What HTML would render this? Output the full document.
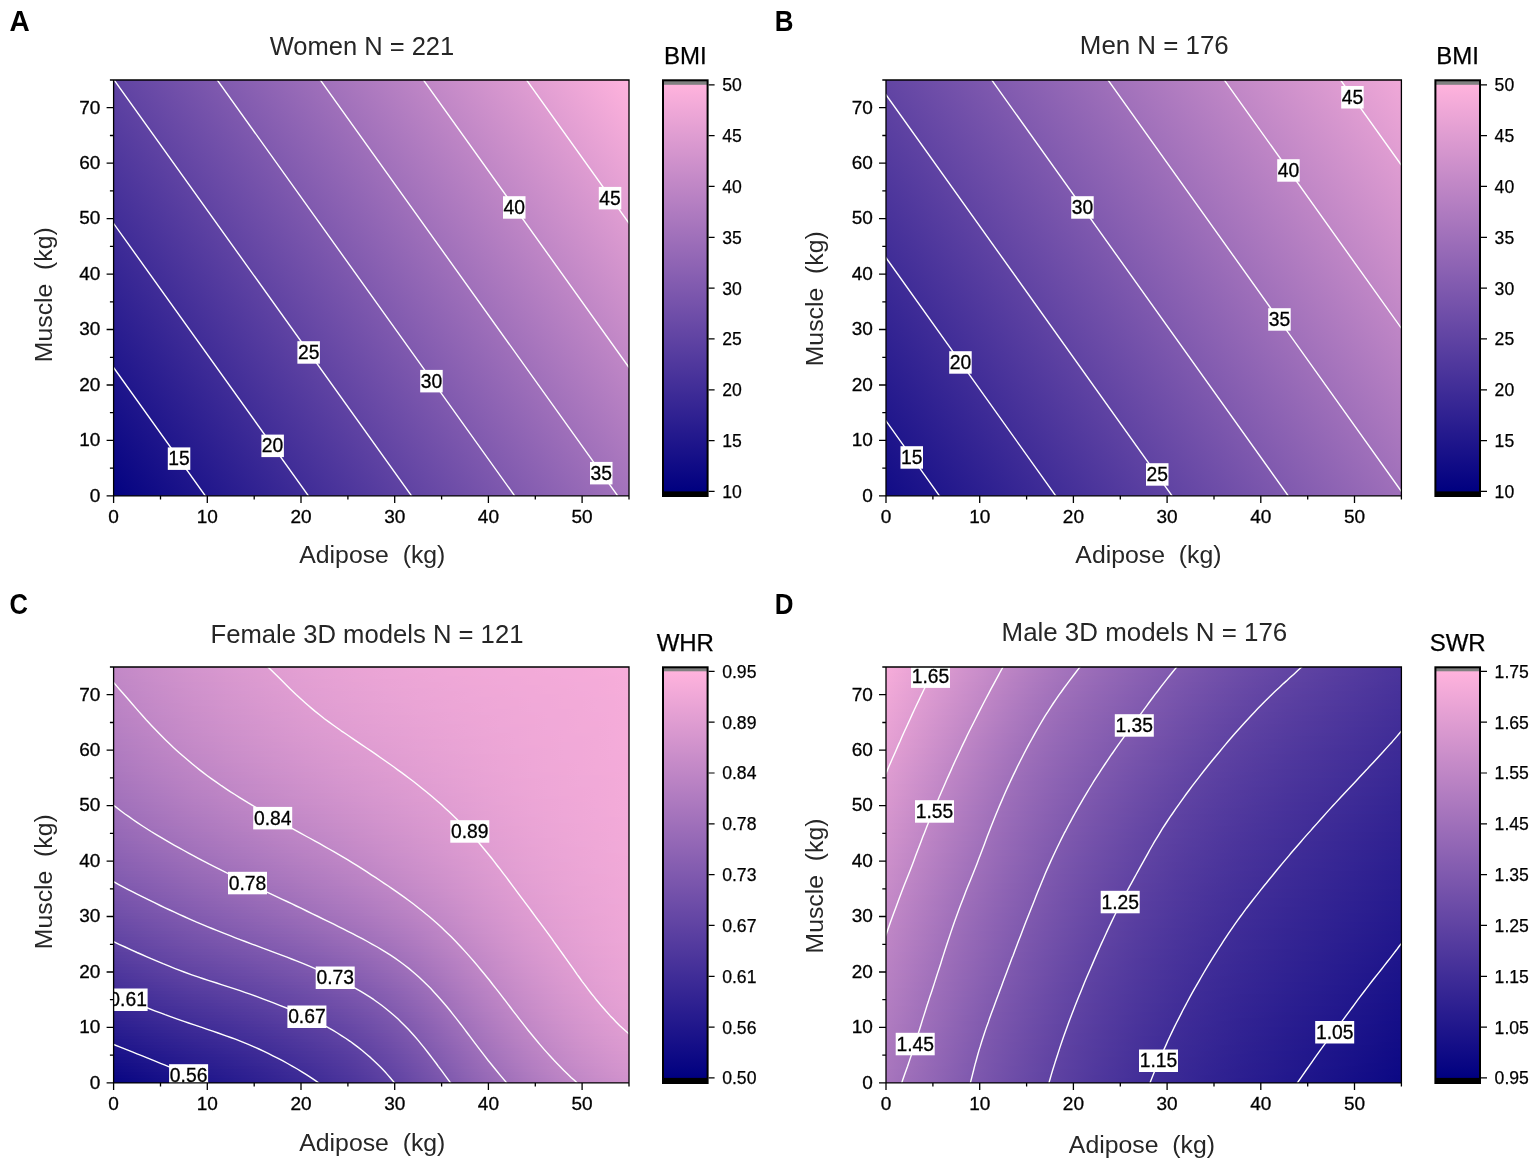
<!DOCTYPE html>
<html lang="en"><head><meta charset="utf-8"><title>Contour plots</title>
<style>
html,body{margin:0;padding:0;background:#fff}
body{width:1535px;height:1163px;position:relative;overflow:hidden;font-family:"Liberation Sans", Arial, Helvetica, sans-serif}
.fill{position:absolute;overflow:hidden}
.fill i{display:block;height:3px}
svg{position:absolute;left:0;top:0}
text{font-family:"Liberation Sans", Arial, Helvetica, sans-serif;fill:#000}
.cl{font-size:19.3px;text-anchor:middle;stroke:#000;stroke-width:.3px}
.xt{font-size:19px;text-anchor:middle;stroke:#000;stroke-width:.3px}
.yt{font-size:19px;text-anchor:end;stroke:#000;stroke-width:.3px}
.ct{font-size:17.6px;stroke:#000;stroke-width:.25px}
.ti{text-anchor:middle;fill:#262626}
.al{font-size:24.8px;text-anchor:middle;fill:#262626}
.cbl{font-size:24px;text-anchor:middle;stroke:#000;stroke-width:.25px}
.pl{font-size:29.2px;font-weight:bold}
</style></head>
<body>
<div class="fill" style="left:113.6px;top:667px;width:515.4px;height:415.9px"><i style="background:linear-gradient(90deg,#c288c7,#c68bc8,#c98dc9,#cd90cb,#d092cc,#d394cd,#d696ce,#d998cf,#db9ad0,#de9cd1,#e09dd2,#e29fd2,#e4a0d3,#e6a1d4,#e7a2d4,#e9a4d5,#eaa4d5,#eca5d6,#eda6d6,#eea7d7,#efa7d7,#efa8d7,#f0a8d8,#f1a9d8,#f1a9d8,#f2aad8,#f3aad8,#f3abd9,#f4abd9,#f4acd9,#f5acd9,#f6adda,#f7aeda)"></i><i style="background:linear-gradient(90deg,#c288c7,#c58ac8,#c98dc9,#cc8fca,#cf92cc,#d394cd,#d596ce,#d898cf,#db9ad0,#dd9bd1,#df9dd1,#e29ed2,#e4a0d3,#e5a1d4,#e7a2d4,#e9a3d5,#eaa4d5,#eba5d6,#eca6d6,#eda7d7,#eea7d7,#efa8d7,#f0a8d7,#f0a9d8,#f1a9d8,#f2aad8,#f2aad8,#f3abd9,#f3abd9,#f4abd9,#f5acd9,#f6adda,#f7adda)"></i><i style="background:linear-gradient(90deg,#c187c6,#c58ac8,#c88dc9,#cc8fca,#cf91cb,#d293cd,#d595ce,#d897cf,#da99d0,#dd9bd0,#df9dd1,#e19ed2,#e3a0d3,#e5a1d4,#e7a2d4,#e8a3d5,#eaa4d5,#eba5d6,#eca6d6,#eda6d6,#eea7d7,#efa8d7,#f0a8d7,#f0a9d8,#f1a9d8,#f2aad8,#f2aad8,#f3aad9,#f3abd9,#f4abd9,#f5acd9,#f6acda,#f7adda)"></i><i style="background:linear-gradient(90deg,#c087c6,#c48ac7,#c88cc9,#cb8fca,#ce91cb,#d293cc,#d495cd,#d797ce,#da99cf,#dc9bd0,#df9cd1,#e19ed2,#e39fd3,#e5a1d3,#e6a2d4,#e8a3d5,#e9a4d5,#eba5d6,#eca5d6,#eda6d6,#eea7d7,#eea7d7,#efa8d7,#f0a8d8,#f1a9d8,#f1a9d8,#f2aad8,#f2aad8,#f3abd9,#f4abd9,#f4acd9,#f5acd9,#f7adda)"></i><i style="background:linear-gradient(90deg,#c087c6,#c389c7,#c78cc9,#cb8eca,#ce91cb,#d193cc,#d495cd,#d797ce,#d999cf,#dc9ad0,#de9cd1,#e09dd2,#e29fd3,#e4a0d3,#e6a1d4,#e8a3d4,#e9a3d5,#eaa4d5,#eba5d6,#eca6d6,#eda7d7,#eea7d7,#efa8d7,#f0a8d7,#f0a9d8,#f1a9d8,#f2aad8,#f2aad8,#f3aad9,#f4abd9,#f4abd9,#f5acd9,#f7adda)"></i><i style="background:linear-gradient(90deg,#bf86c6,#c389c7,#c68bc8,#ca8eca,#cd90cb,#d092cc,#d394cd,#d696ce,#d998cf,#db9ad0,#de9cd1,#e09dd2,#e29fd2,#e4a0d3,#e6a1d4,#e7a2d4,#e9a3d5,#eaa4d5,#eba5d6,#eca6d6,#eda6d6,#eea7d7,#efa8d7,#f0a8d7,#f0a9d8,#f1a9d8,#f2aad8,#f2aad8,#f3aad9,#f3abd9,#f4abd9,#f5acd9,#f6adda)"></i><i style="background:linear-gradient(90deg,#be86c5,#c288c7,#c68bc8,#c98dc9,#cd90cb,#d092cc,#d394cd,#d696ce,#d898cf,#db9ad0,#dd9bd1,#e09dd2,#e29ed2,#e4a0d3,#e5a1d4,#e7a2d4,#e8a3d5,#eaa4d5,#eba5d6,#eca6d6,#eda6d6,#eea7d7,#efa7d7,#efa8d7,#f0a8d8,#f1a9d8,#f1a9d8,#f2aad8,#f3aad8,#f3abd9,#f4abd9,#f5acd9,#f6adda)"></i><i style="background:linear-gradient(90deg,#be85c5,#c288c7,#c58bc8,#c98dc9,#cc8fca,#cf92cc,#d294cd,#d596ce,#d898cf,#da99d0,#dd9bd1,#df9dd1,#e19ed2,#e39fd3,#e5a1d3,#e6a2d4,#e8a3d5,#e9a4d5,#eaa5d5,#eba5d6,#eca6d6,#eda7d7,#eea7d7,#efa8d7,#f0a8d7,#f1a9d8,#f1a9d8,#f2aad8,#f2aad8,#f3abd9,#f4abd9,#f5acd9,#f6adda)"></i><i style="background:linear-gradient(90deg,#bd85c5,#c187c6,#c58ac8,#c88dc9,#cc8fca,#cf91cb,#d293cd,#d595ce,#d797cf,#da99cf,#dc9bd0,#df9cd1,#e19ed2,#e39fd3,#e4a0d3,#e6a1d4,#e7a2d4,#e9a3d5,#eaa4d5,#eba5d6,#eca6d6,#eda6d6,#eea7d7,#efa8d7,#f0a8d7,#f0a9d8,#f1a9d8,#f2aad8,#f2aad8,#f3aad9,#f4abd9,#f5acd9,#f6adda)"></i><i style="background:linear-gradient(90deg,#bd84c5,#c087c6,#c48ac8,#c88cc9,#cb8fca,#ce91cb,#d193cc,#d495cd,#d797ce,#d999cf,#dc9ad0,#de9cd1,#e09ed2,#e29fd3,#e4a0d3,#e6a1d4,#e7a2d4,#e8a3d5,#eaa4d5,#eba5d6,#eca6d6,#eda6d6,#eea7d7,#efa8d7,#efa8d7,#f0a9d8,#f1a9d8,#f1a9d8,#f2aad8,#f3aad9,#f4abd9,#f4acd9,#f6adda)"></i><i style="background:linear-gradient(90deg,#bc84c5,#c087c6,#c489c7,#c78cc9,#cb8eca,#ce90cb,#d193cc,#d495cd,#d697ce,#d998cf,#db9ad0,#de9cd1,#e09dd2,#e29fd2,#e4a0d3,#e5a1d4,#e7a2d4,#e8a3d5,#e9a4d5,#eba5d6,#eca5d6,#eda6d6,#eea7d7,#eea7d7,#efa8d7,#f0a8d8,#f1a9d8,#f1a9d8,#f2aad8,#f3aad8,#f3abd9,#f4acd9,#f6acda)"></i><i style="background:linear-gradient(90deg,#bb83c4,#bf86c6,#c389c7,#c78bc8,#ca8eca,#cd90cb,#d092cc,#d394cd,#d696ce,#d998cf,#db9ad0,#dd9bd1,#e09dd2,#e29ed2,#e3a0d3,#e5a1d3,#e6a2d4,#e8a3d5,#e9a4d5,#eaa4d5,#eba5d6,#eca6d6,#eda7d7,#eea7d7,#efa8d7,#f0a8d7,#f1a9d8,#f1a9d8,#f2aad8,#f2aad8,#f3abd9,#f4abd9,#f6acda)"></i><i style="background:linear-gradient(90deg,#bb83c4,#bf86c5,#c288c7,#c68bc8,#c98dc9,#cd90cb,#d092cc,#d394cd,#d596ce,#d898cf,#db99d0,#dd9bd1,#df9dd1,#e19ed2,#e39fd3,#e4a0d3,#e6a1d4,#e7a2d4,#e9a3d5,#eaa4d5,#eba5d6,#eca6d6,#eda6d6,#eea7d7,#efa8d7,#f0a8d7,#f0a9d8,#f1a9d8,#f2aad8,#f2aad8,#f3abd9,#f4abd9,#f6acda)"></i><i style="background:linear-gradient(90deg,#ba83c4,#be85c5,#c288c7,#c58bc8,#c98dc9,#cc8fca,#cf91cc,#d294cd,#d595ce,#d897cf,#da99d0,#dc9bd0,#df9cd1,#e19ed2,#e29fd3,#e4a0d3,#e6a1d4,#e7a2d4,#e8a3d5,#eaa4d5,#eba5d6,#eca6d6,#eda6d6,#eea7d7,#efa8d7,#efa8d7,#f0a9d8,#f1a9d8,#f2aad8,#f2aad8,#f3abd9,#f4abd9,#f5acda)"></i><i style="background:linear-gradient(90deg,#b982c4,#bd85c5,#c188c6,#c58ac8,#c88dc9,#cc8fca,#cf91cb,#d293cc,#d495cd,#d797ce,#da99cf,#dc9ad0,#de9cd1,#e09dd2,#e29fd2,#e4a0d3,#e5a1d4,#e7a2d4,#e8a3d5,#e9a4d5,#eaa5d6,#eca5d6,#eda6d6,#eea7d7,#eea7d7,#efa8d7,#f0a9d8,#f1a9d8,#f1a9d8,#f2aad8,#f3abd9,#f4abd9,#f5acd9)"></i><i style="background:linear-gradient(90deg,#b982c3,#bd84c5,#c087c6,#c48ac8,#c88cc9,#cb8eca,#ce91cb,#d193cc,#d495cd,#d797ce,#d998cf,#db9ad0,#de9cd1,#e09dd2,#e29ed2,#e3a0d3,#e5a1d3,#e6a2d4,#e8a3d4,#e9a4d5,#eaa4d5,#eba5d6,#eca6d6,#eda7d7,#eea7d7,#efa8d7,#f0a8d8,#f1a9d8,#f1a9d8,#f2aad8,#f3aad9,#f4abd9,#f5acd9)"></i><i style="background:linear-gradient(90deg,#b881c3,#bc84c5,#c087c6,#c489c7,#c78cc9,#ca8eca,#ce90cb,#d192cc,#d394cd,#d696ce,#d998cf,#db9ad0,#dd9bd1,#df9dd1,#e19ed2,#e39fd3,#e4a0d3,#e6a1d4,#e7a2d4,#e9a3d5,#eaa4d5,#eba5d6,#eca6d6,#eda6d6,#eea7d7,#efa8d7,#f0a8d7,#f1a9d8,#f1a9d8,#f2aad8,#f3aad9,#f4abd9,#f5acd9)"></i><i style="background:linear-gradient(90deg,#b781c3,#bb83c4,#bf86c6,#c389c7,#c68bc8,#ca8eca,#cd90cb,#d092cc,#d394cd,#d596ce,#d898cf,#da99d0,#dd9bd0,#df9cd1,#e19ed2,#e29fd3,#e4a0d3,#e6a1d4,#e7a2d4,#e8a3d5,#eaa4d5,#eba5d6,#eca6d6,#eda6d6,#eea7d7,#efa8d7,#f0a8d7,#f0a9d8,#f1a9d8,#f2aad8,#f3aad9,#f4abd9,#f5acd9)"></i><i style="background:linear-gradient(90deg,#b780c3,#bb83c4,#bf86c6,#c288c7,#c68bc8,#c98dc9,#cc8fcb,#cf92cc,#d294cd,#d595ce,#d797cf,#da99cf,#dc9bd0,#de9cd1,#e09dd2,#e29fd2,#e4a0d3,#e5a1d4,#e7a2d4,#e8a3d5,#e9a4d5,#eaa5d6,#eca5d6,#eda6d6,#eea7d7,#efa8d7,#f0a8d7,#f0a9d8,#f1a9d8,#f2aad8,#f3aad8,#f4abd9,#f5acd9)"></i><i style="background:linear-gradient(90deg,#b680c2,#ba83c4,#be85c5,#c288c7,#c58ac8,#c98dc9,#cc8fca,#cf91cb,#d293cc,#d495cd,#d797ce,#d999cf,#dc9ad0,#de9cd1,#e09dd2,#e29ed2,#e39fd3,#e5a1d3,#e6a2d4,#e8a3d4,#e9a4d5,#eaa4d5,#eba5d6,#eda6d6,#eea7d7,#efa7d7,#efa8d7,#f0a9d8,#f1a9d8,#f2aad8,#f3aad8,#f4abd9,#f5acd9)"></i><i style="background:linear-gradient(90deg,#b57fc2,#b982c4,#bd85c5,#c187c6,#c58ac8,#c88cc9,#cb8fca,#ce91cb,#d193cc,#d495cd,#d696ce,#d998cf,#db9ad0,#dd9bd1,#df9dd1,#e19ed2,#e39fd3,#e4a0d3,#e6a1d4,#e7a2d4,#e9a3d5,#eaa4d5,#eba5d6,#eca6d6,#eda7d7,#eea7d7,#efa8d7,#f0a9d8,#f1a9d8,#f2aad8,#f2aad8,#f4abd9,#f5acd9)"></i><i style="background:linear-gradient(90deg,#b57fc2,#b982c3,#bd84c5,#c087c6,#c48ac7,#c78cc9,#cb8eca,#ce90cb,#d092cc,#d394cd,#d696ce,#d898cf,#db99d0,#dd9bd1,#df9cd1,#e19ed2,#e29fd3,#e4a0d3,#e5a1d4,#e7a2d4,#e8a3d5,#eaa4d5,#eba5d6,#eca6d6,#eda7d7,#eea7d7,#efa8d7,#f0a8d8,#f1a9d8,#f2aad8,#f2aad8,#f3abd9,#f5acd9)"></i><i style="background:linear-gradient(90deg,#b47ec2,#b881c3,#bc84c5,#c087c6,#c389c7,#c78bc8,#ca8eca,#cd90cb,#d092cc,#d394cd,#d596ce,#d897cf,#da99d0,#dc9bd0,#de9cd1,#e09dd2,#e29fd2,#e3a0d3,#e5a1d4,#e7a2d4,#e8a3d5,#e9a4d5,#eba5d6,#eca6d6,#eda6d6,#eea7d7,#efa8d7,#f0a8d8,#f1a9d8,#f1aad8,#f2aad8,#f3abd9,#f5acd9)"></i><i style="background:linear-gradient(90deg,#b37ec1,#b781c3,#bb83c4,#bf86c6,#c389c7,#c68bc8,#c98dc9,#cc8fcb,#cf91cc,#d293cd,#d595ce,#d797ce,#d999cf,#dc9ad0,#de9cd1,#e09dd2,#e19ed2,#e39fd3,#e5a0d3,#e6a2d4,#e8a3d4,#e9a4d5,#eaa5d5,#eca5d6,#eda6d6,#eea7d7,#efa8d7,#f0a8d7,#f1a9d8,#f1a9d8,#f2aad8,#f3abd9,#f5acd9)"></i><i style="background:linear-gradient(90deg,#b27dc1,#b680c3,#ba83c4,#be86c5,#c288c7,#c58bc8,#c98dc9,#cc8fca,#cf91cb,#d193cc,#d495cd,#d797ce,#d998cf,#db9ad0,#dd9bd1,#df9dd1,#e19ed2,#e39fd3,#e4a0d3,#e6a1d4,#e7a2d4,#e9a3d5,#eaa4d5,#eba5d6,#eda6d6,#eea7d7,#efa8d7,#f0a8d7,#f1a9d8,#f1a9d8,#f2aad8,#f3abd9,#f5acd9)"></i><i style="background:linear-gradient(90deg,#b27dc1,#b680c2,#ba82c4,#be85c5,#c188c6,#c58ac8,#c88cc9,#cb8fca,#ce91cb,#d193cc,#d394cd,#d696ce,#d898cf,#db99d0,#dd9bd0,#df9cd1,#e09ed2,#e29fd2,#e4a0d3,#e5a1d4,#e7a2d4,#e8a3d5,#eaa4d5,#eba5d6,#eda6d6,#eea7d7,#efa8d7,#f0a8d7,#f0a9d8,#f1a9d8,#f2aad8,#f3abd9,#f5acd9)"></i><i style="background:linear-gradient(90deg,#b17cc0,#b57fc2,#b982c3,#bd85c5,#c087c6,#c48ac7,#c78cc9,#ca8eca,#cd90cb,#d092cc,#d394cd,#d596ce,#d897cf,#da99d0,#dc9ad0,#de9cd1,#e09dd2,#e29ed2,#e3a0d3,#e5a1d4,#e7a2d4,#e8a3d5,#eaa4d5,#eba5d6,#eca6d6,#eea7d7,#efa7d7,#f0a8d7,#f0a9d8,#f1a9d8,#f2aad8,#f3abd9,#f4acd9)"></i><i style="background:linear-gradient(90deg,#b07cc0,#b47fc2,#b881c3,#bc84c5,#c087c6,#c389c7,#c78bc8,#ca8eca,#cd90cb,#cf92cc,#d293cd,#d595ce,#d797ce,#d999cf,#dc9ad0,#de9bd1,#df9dd1,#e19ed2,#e39fd3,#e5a1d3,#e6a2d4,#e8a3d5,#e9a4d5,#eba5d6,#eca6d6,#eda7d7,#eea7d7,#efa8d7,#f0a9d8,#f1a9d8,#f2aad8,#f3abd9,#f4acd9)"></i><i style="background:linear-gradient(90deg,#af7bc0,#b37ec1,#b881c3,#bb84c4,#bf86c6,#c389c7,#c68bc8,#c98dc9,#cc8fca,#cf91cb,#d193cc,#d495cd,#d697ce,#d998cf,#db9ad0,#dd9bd1,#df9cd1,#e19ed2,#e39fd3,#e4a0d3,#e6a1d4,#e7a3d4,#e9a4d5,#eba5d6,#eca6d6,#eda7d7,#eea7d7,#efa8d7,#f0a9d8,#f1a9d8,#f2aad8,#f3abd9,#f4acd9)"></i><i style="background:linear-gradient(90deg,#ae7ac0,#b37dc1,#b780c3,#bb83c4,#be86c5,#c288c7,#c58ac8,#c88dc9,#cb8fca,#ce91cb,#d193cc,#d394cd,#d696ce,#d898cf,#da99d0,#dc9bd0,#de9cd1,#e09dd2,#e29fd2,#e4a0d3,#e6a1d4,#e7a2d4,#e9a3d5,#eaa4d5,#eca5d6,#eda6d6,#eea7d7,#efa8d7,#f0a9d8,#f1a9d8,#f2aad8,#f3abd9,#f4abd9)"></i><i style="background:linear-gradient(90deg,#ae7abf,#b27dc1,#b680c2,#ba82c4,#be85c5,#c188c6,#c48ac8,#c88cc9,#cb8eca,#cd90cb,#d092cc,#d394cd,#d596ce,#d897cf,#da99cf,#dc9ad0,#de9cd1,#e09dd2,#e29ed2,#e3a0d3,#e5a1d4,#e7a2d4,#e8a3d5,#eaa4d5,#eca5d6,#eda6d6,#eea7d7,#efa8d7,#f0a9d8,#f1a9d8,#f2aad8,#f3abd9,#f4abd9)"></i><i style="background:linear-gradient(90deg,#ad79bf,#b17cc1,#b57fc2,#b982c3,#bd84c5,#c087c6,#c489c7,#c78cc8,#ca8eca,#cd90cb,#cf92cc,#d293cd,#d595ce,#d797ce,#d998cf,#db9ad0,#dd9bd1,#df9dd1,#e19ed2,#e39fd3,#e5a1d3,#e6a2d4,#e8a3d5,#eaa4d5,#eba5d6,#eda6d6,#eea7d7,#efa8d7,#f0a8d8,#f1a9d8,#f2aad8,#f3aad9,#f4abd9)"></i><i style="background:linear-gradient(90deg,#ac79bf,#b07cc0,#b47fc2,#b881c3,#bc84c5,#bf86c6,#c389c7,#c68bc8,#c98dc9,#cc8fca,#cf91cb,#d193cc,#d495cd,#d696ce,#d998cf,#db9ad0,#dd9bd1,#df9cd1,#e19ed2,#e39fd3,#e4a0d3,#e6a2d4,#e8a3d5,#eaa4d5,#eba5d6,#eda6d6,#eea7d7,#efa8d7,#f0a8d7,#f1a9d8,#f2aad8,#f3aad9,#f4abd9)"></i><i style="background:linear-gradient(90deg,#ab78be,#af7bc0,#b47ec1,#b781c3,#bb83c4,#bf86c6,#c288c7,#c58ac8,#c88dc9,#cb8fca,#ce91cb,#d192cc,#d394cd,#d696ce,#d898cf,#da99d0,#dc9bd0,#de9cd1,#e09dd2,#e29fd2,#e4a0d3,#e6a1d4,#e8a3d4,#e9a4d5,#eba5d6,#eca6d6,#eea7d7,#efa8d7,#f0a8d7,#f1a9d8,#f2aad8,#f3aad9,#f4abd9)"></i><i style="background:linear-gradient(90deg,#aa78be,#af7bc0,#b37dc1,#b780c3,#ba83c4,#be85c5,#c188c6,#c48ac8,#c88cc9,#ca8eca,#cd90cb,#d092cc,#d294cd,#d595ce,#d797ce,#d999cf,#dc9ad0,#de9cd1,#e09dd2,#e29ed2,#e4a0d3,#e5a1d4,#e7a2d4,#e9a4d5,#eba5d6,#eca6d6,#eea7d7,#efa8d7,#f0a8d7,#f1a9d8,#f2aad8,#f3aad9,#f4abd9)"></i><i style="background:linear-gradient(90deg,#a977be,#ae7abf,#b27dc1,#b680c2,#b982c4,#bd85c5,#c087c6,#c489c7,#c78bc8,#ca8eca,#cc90cb,#cf91cc,#d293cc,#d495cd,#d797ce,#d998cf,#db9ad0,#dd9bd1,#df9dd1,#e19ed2,#e39fd3,#e5a1d4,#e7a2d4,#e9a3d5,#eaa5d5,#eca6d6,#eda7d7,#efa7d7,#f0a8d7,#f1a9d8,#f2aad8,#f3aad8,#f4abd9)"></i><i style="background:linear-gradient(90deg,#a976bd,#ad79bf,#b17cc1,#b57fc2,#b982c3,#bc84c5,#c087c6,#c389c7,#c68bc8,#c98dc9,#cc8fca,#ce91cb,#d193cc,#d494cd,#d696ce,#d898cf,#da99d0,#dd9bd0,#df9cd1,#e19ed2,#e39fd3,#e5a1d3,#e7a2d4,#e8a3d5,#eaa4d5,#eca6d6,#eda7d7,#eea7d7,#efa8d7,#f0a9d8,#f1a9d8,#f3aad8,#f4abd9)"></i><i style="background:linear-gradient(90deg,#a876bd,#ac79bf,#b07cc0,#b47ec2,#b881c3,#bb84c4,#bf86c6,#c288c7,#c58ac8,#c88cc9,#cb8eca,#ce90cb,#d092cc,#d394cd,#d596ce,#d897cf,#da99cf,#dc9ad0,#de9cd1,#e09dd2,#e29fd3,#e4a0d3,#e6a2d4,#e8a3d5,#eaa4d5,#eca5d6,#eda6d6,#eea7d7,#efa8d7,#f0a9d8,#f1a9d8,#f2aad8,#f4abd9)"></i><i style="background:linear-gradient(90deg,#a775bd,#ab78be,#af7bc0,#b37ec1,#b780c3,#ba83c4,#be85c5,#c188c6,#c48ac8,#c78cc9,#ca8eca,#cd90cb,#d092cc,#d293cd,#d595ce,#d797ce,#d998cf,#db9ad0,#de9cd1,#e09dd2,#e29fd2,#e4a0d3,#e6a1d4,#e8a3d5,#eaa4d5,#eba5d6,#eda6d6,#eea7d7,#efa8d7,#f0a9d8,#f1a9d8,#f2aad8,#f4abd9)"></i><i style="background:linear-gradient(90deg,#a674bc,#aa77be,#ae7ac0,#b27dc1,#b680c2,#ba82c4,#bd85c5,#c087c6,#c389c7,#c68bc8,#c98dc9,#cc8fca,#cf91cb,#d193cc,#d495cd,#d696ce,#d998cf,#db9ad0,#dd9bd1,#df9dd1,#e19ed2,#e3a0d3,#e6a1d4,#e8a3d4,#e9a4d5,#eba5d6,#eda6d6,#eea7d7,#efa8d7,#f0a9d8,#f1a9d8,#f2aad8,#f4abd9)"></i><i style="background:linear-gradient(90deg,#a574bc,#a977be,#ad7abf,#b17cc1,#b57fc2,#b982c3,#bc84c5,#bf86c6,#c389c7,#c68bc8,#c88dc9,#cb8fca,#ce91cb,#d192cc,#d394cd,#d696ce,#d898cf,#da99d0,#dd9bd0,#df9cd1,#e19ed2,#e39fd3,#e5a1d4,#e7a2d4,#e9a4d5,#eba5d6,#eda6d6,#eea7d7,#efa8d7,#f0a8d8,#f1a9d8,#f2aad8,#f4abd9)"></i><i style="background:linear-gradient(90deg,#a473bc,#a876bd,#ac79bf,#b07cc0,#b47ec2,#b881c3,#bb83c4,#be86c5,#c288c7,#c58ac8,#c88cc9,#ca8eca,#cd90cb,#d092cc,#d294cd,#d595ce,#d797cf,#da99cf,#dc9ad0,#de9cd1,#e09ed2,#e39fd3,#e5a1d3,#e7a2d4,#e9a3d5,#eba5d6,#eca6d6,#eea7d7,#efa8d7,#f0a8d7,#f1a9d8,#f2aad8,#f4abd9)"></i><i style="background:linear-gradient(90deg,#a372bb,#a775bd,#ab78bf,#af7bc0,#b37ec1,#b780c3,#ba83c4,#be85c5,#c187c6,#c489c7,#c78bc8,#ca8eca,#cc8fcb,#cf91cb,#d293cc,#d495cd,#d797ce,#d998cf,#db9ad0,#de9cd1,#e09dd2,#e29fd3,#e4a0d3,#e7a2d4,#e9a3d5,#eaa5d6,#eca6d6,#eea7d7,#efa8d7,#f0a8d7,#f1a9d8,#f2aad8,#f4abd9)"></i><i style="background:linear-gradient(90deg,#a272bb,#a675bd,#aa78be,#ae7ac0,#b27dc1,#b680c2,#b982c4,#bd84c5,#c087c6,#c389c7,#c68bc8,#c98dc9,#cc8fca,#ce91cb,#d193cc,#d394cd,#d696ce,#d898cf,#db9ad0,#dd9bd1,#df9dd2,#e29ed2,#e4a0d3,#e6a2d4,#e8a3d5,#eaa4d5,#eca6d6,#eda7d7,#efa7d7,#f0a8d7,#f1a9d8,#f2aad8,#f3abd9)"></i><i style="background:linear-gradient(90deg,#a171bb,#a574bc,#a977be,#ad7abf,#b17cc1,#b57fc2,#b881c3,#bc84c4,#bf86c6,#c288c7,#c58ac8,#c88cc9,#cb8eca,#cd90cb,#d092cc,#d394cd,#d596ce,#d897cf,#da99d0,#dd9bd0,#df9dd1,#e19ed2,#e4a0d3,#e6a1d4,#e8a3d5,#eaa4d5,#eca5d6,#eda6d6,#eea7d7,#f0a8d7,#f1a9d8,#f2aad8,#f3abd9)"></i><i style="background:linear-gradient(90deg,#a070ba,#a473bc,#a876bd,#ac79bf,#b07cc0,#b47ec2,#b781c3,#bb83c4,#be85c5,#c187c6,#c48ac7,#c78cc9,#ca8eca,#cd90cb,#cf91cc,#d293cd,#d595ce,#d797ce,#da99cf,#dc9ad0,#de9cd1,#e19ed2,#e39fd3,#e5a1d4,#e8a3d4,#eaa4d5,#eba5d6,#eda6d6,#eea7d7,#efa8d7,#f1a9d8,#f2aad8,#f3abd9)"></i><i style="background:linear-gradient(90deg,#9f70ba,#a373bc,#a775bd,#ab78be,#af7bc0,#b37dc1,#b680c2,#ba82c4,#bd85c5,#c087c6,#c389c7,#c68bc8,#c98dc9,#cc8fca,#ce91cb,#d193cc,#d495cd,#d696ce,#d998cf,#db9ad0,#de9cd1,#e09ed2,#e39fd3,#e5a1d4,#e7a2d4,#e9a4d5,#eba5d6,#eda6d6,#eea7d7,#efa8d7,#f1a9d8,#f2aad8,#f3abd9)"></i><i style="background:linear-gradient(90deg,#9e6fba,#a272bb,#a675bd,#aa78be,#ae7abf,#b27dc1,#b57fc2,#b982c3,#bc84c5,#bf86c6,#c288c7,#c58ac8,#c88cc9,#cb8eca,#ce90cb,#d092cc,#d394cd,#d696ce,#d898cf,#db9ad0,#dd9bd1,#e09dd2,#e29fd3,#e5a1d3,#e7a2d4,#e9a4d5,#eba5d6,#eda6d6,#eea7d7,#efa8d7,#f0a9d8,#f2aad8,#f3abd9)"></i><i style="background:linear-gradient(90deg,#9d6eb9,#a171bb,#a574bc,#a977be,#ad79bf,#b17cc0,#b47fc2,#b881c3,#bb83c4,#be85c5,#c188c6,#c48ac8,#c78cc9,#ca8eca,#cd90cb,#d092cc,#d294cd,#d596ce,#d897cf,#da99d0,#dd9bd1,#df9dd1,#e29fd2,#e4a0d3,#e7a2d4,#e9a3d5,#eba5d6,#eca6d6,#eea7d7,#efa8d7,#f0a9d8,#f2aad8,#f3abd9)"></i><i style="background:linear-gradient(90deg,#9c6db9,#a070ba,#a473bc,#a876bd,#ac79bf,#b07bc0,#b37ec1,#b780c3,#ba82c4,#bd85c5,#c087c6,#c389c7,#c68bc8,#c98dc9,#cc8fca,#cf91cb,#d293cc,#d495cd,#d797ce,#da99cf,#dc9bd0,#df9cd1,#e19ed2,#e4a0d3,#e6a2d4,#e9a3d5,#eaa5d6,#eca6d6,#eea7d7,#efa8d7,#f0a9d8,#f2aad8,#f3abd9)"></i><i style="background:linear-gradient(90deg,#9b6db8,#9f70ba,#a372bb,#a775bd,#ab78be,#ae7ac0,#b27dc1,#b67fc2,#b982c3,#bc84c5,#bf86c6,#c288c7,#c58ac8,#c88dc9,#cb8fca,#ce91cb,#d193cc,#d495cd,#d696ce,#d998cf,#dc9ad0,#de9cd1,#e19ed2,#e4a0d3,#e6a1d4,#e8a3d5,#eaa4d5,#eca6d6,#eda7d7,#efa8d7,#f0a9d8,#f1a9d8,#f3abd9)"></i><i style="background:linear-gradient(90deg,#996cb8,#9e6fba,#a272bb,#a674bc,#aa77be,#ad7abf,#b17cc1,#b47fc2,#b881c3,#bb83c4,#be86c5,#c188c7,#c48ac8,#c78cc9,#ca8eca,#cd90cb,#d092cc,#d394cd,#d696ce,#d898cf,#db9ad0,#de9cd1,#e19ed2,#e39fd3,#e6a1d4,#e8a3d5,#eaa4d5,#eca5d6,#eda7d7,#efa7d7,#f0a8d8,#f1a9d8,#f3aad9)"></i><i style="background:linear-gradient(90deg,#986bb8,#9d6eb9,#a171bb,#a574bc,#a976bd,#ac79bf,#b07bc0,#b37ec1,#b780c3,#ba83c4,#bd85c5,#c087c6,#c389c7,#c68bc8,#c98dc9,#cc8fca,#cf91cc,#d293cd,#d595ce,#d897cf,#db99d0,#dd9bd1,#e09dd2,#e39fd3,#e5a1d4,#e8a3d4,#eaa4d5,#eba5d6,#eda6d6,#eea7d7,#f0a8d7,#f1a9d8,#f3aad9)"></i><i style="background:linear-gradient(90deg,#976ab7,#9c6db9,#a070ba,#a473bc,#a776bd,#ab78be,#af7bc0,#b27dc1,#b67fc2,#b982c3,#bc84c5,#bf86c6,#c288c7,#c58bc8,#c88dc9,#cb8fca,#ce91cb,#d193cc,#d495cd,#d797ce,#da99d0,#dd9bd1,#e09dd2,#e29fd3,#e5a1d3,#e7a2d4,#e9a4d5,#eba5d6,#eda6d6,#eea7d7,#f0a8d7,#f1a9d8,#f3aad8)"></i><i style="background:linear-gradient(90deg,#9669b7,#9a6cb8,#9e6fba,#a272bb,#a675bd,#aa77be,#ae7abf,#b17cc1,#b57fc2,#b881c3,#bb83c4,#be86c5,#c188c7,#c48ac8,#c78cc9,#ca8eca,#cd90cb,#d192cc,#d494cd,#d697ce,#d999cf,#dc9bd0,#df9dd1,#e29fd2,#e5a0d3,#e7a2d4,#e9a4d5,#eba5d6,#eda6d6,#eea7d7,#f0a8d7,#f1a9d8,#f3aad8)"></i><i style="background:linear-gradient(90deg,#9568b6,#996bb8,#9d6eb9,#a171bb,#a574bc,#a976be,#ac79bf,#b07cc0,#b37ec1,#b780c3,#ba83c4,#bd85c5,#c087c6,#c389c7,#c68bc8,#ca8dc9,#cd90cb,#d092cc,#d394cd,#d696ce,#d998cf,#dc9ad0,#df9cd1,#e19ed2,#e4a0d3,#e7a2d4,#e9a3d5,#eba5d6,#eca6d6,#eea7d7,#efa8d7,#f1a9d8,#f2aad8)"></i><i style="background:linear-gradient(90deg,#9468b6,#986bb7,#9c6eb9,#a070ba,#a473bc,#a876bd,#ab78be,#af7bc0,#b27dc1,#b67fc2,#b982c3,#bc84c5,#bf86c6,#c288c7,#c58bc8,#c98dc9,#cc8fca,#cf91cb,#d293cd,#d596ce,#d898cf,#db9ad0,#de9cd1,#e19ed2,#e4a0d3,#e6a2d4,#e9a3d5,#eba5d6,#eca6d6,#eea7d7,#efa8d7,#f1a9d8,#f2aad8)"></i><i style="background:linear-gradient(90deg,#9267b5,#976ab7,#9b6db8,#9f6fba,#a372bb,#a675bd,#aa77be,#ae7abf,#b17cc1,#b47fc2,#b881c3,#bb83c4,#be86c5,#c188c7,#c48ac8,#c88cc9,#cb8eca,#ce91cb,#d193cc,#d495cd,#d897cf,#db99d0,#de9cd1,#e19ed2,#e3a0d3,#e6a1d4,#e8a3d5,#eaa4d5,#eca6d6,#eea7d7,#efa8d7,#f1a9d8,#f2aad8)"></i><i style="background:linear-gradient(90deg,#9166b5,#9569b7,#9a6cb8,#9e6fb9,#a171bb,#a574bc,#a976be,#ac79bf,#b07bc0,#b37ec1,#b780c3,#ba83c4,#bd85c5,#c087c6,#c389c7,#c78bc8,#ca8eca,#cd90cb,#d092cc,#d495cd,#d797ce,#da99d0,#dd9bd1,#e09dd2,#e39fd3,#e6a1d4,#e8a3d5,#eaa4d5,#eca6d6,#eda7d7,#efa8d7,#f0a9d8,#f2aad8)"></i><i style="background:linear-gradient(90deg,#9065b4,#9468b6,#986bb8,#9c6eb9,#a070ba,#a473bc,#a876bd,#ab78be,#af7bc0,#b27dc1,#b67fc2,#b982c3,#bc84c5,#bf86c6,#c289c7,#c68bc8,#c98dc9,#cc8fcb,#d092cc,#d394cd,#d696ce,#d999cf,#dd9bd0,#e09dd2,#e39fd3,#e5a1d4,#e8a3d4,#eaa4d5,#eca5d6,#eda7d7,#efa8d7,#f0a9d8,#f2aad8)"></i><i style="background:linear-gradient(90deg,#8f64b4,#9367b6,#976ab7,#9b6db9,#9f70ba,#a372bb,#a675bd,#aa77be,#ad7abf,#b17cc1,#b47fc2,#b881c3,#bb83c4,#be86c5,#c188c7,#c58ac8,#c88cc9,#cc8fca,#cf91cb,#d294cd,#d696ce,#d998cf,#dc9ad0,#df9dd1,#e29fd2,#e5a1d3,#e7a2d4,#eaa4d5,#eba5d6,#eda6d6,#efa8d7,#f0a9d8,#f2aad8)"></i><i style="background:linear-gradient(90deg,#8d63b4,#9266b5,#9669b7,#9a6cb8,#9e6fb9,#a171bb,#a574bc,#a976be,#ac79bf,#b07bc0,#b37ec1,#b780c3,#ba82c4,#bd85c5,#c087c6,#c489c7,#c78cc9,#cb8eca,#ce91cb,#d193cc,#d595ce,#d898cf,#dc9ad0,#df9cd1,#e29ed2,#e5a0d3,#e7a2d4,#e9a4d5,#eba5d6,#eda6d6,#eea7d7,#f0a9d8,#f2aad8)"></i><i style="background:linear-gradient(90deg,#8c62b3,#9065b5,#9468b6,#986bb8,#9c6eb9,#a070ba,#a473bc,#a776bd,#ab78be,#ae7ac0,#b27dc1,#b57fc2,#b982c3,#bc84c5,#bf86c6,#c389c7,#c68bc8,#ca8eca,#cd90cb,#d192cc,#d495cd,#d897cf,#db9ad0,#de9cd1,#e19ed2,#e4a0d3,#e7a2d4,#e9a4d5,#eba5d6,#eda6d6,#eea7d7,#f0a8d7,#f2aad8)"></i><i style="background:linear-gradient(90deg,#8b61b3,#8f64b4,#9367b6,#976ab7,#9b6db9,#9f6fba,#a272bb,#a675bd,#aa77be,#ad7abf,#b17cc0,#b47ec2,#b881c3,#bb83c4,#be86c5,#c288c7,#c58ac8,#c98dc9,#cc8fcb,#d092cc,#d394cd,#d797ce,#da99d0,#de9cd1,#e19ed2,#e4a0d3,#e6a2d4,#e9a3d5,#eba5d6,#eca6d6,#eea7d7,#f0a8d7,#f1a9d8)"></i><i style="background:linear-gradient(90deg,#8960b2,#8e63b4,#9266b5,#9669b7,#9a6cb8,#9d6fb9,#a171bb,#a574bc,#a876bd,#ac79bf,#af7bc0,#b37ec1,#b680c2,#ba82c4,#bd85c5,#c187c6,#c48ac8,#c88cc9,#cb8fca,#cf91cc,#d394cd,#d696ce,#da99cf,#dd9bd1,#e09ed2,#e3a0d3,#e6a2d4,#e8a3d5,#eaa5d6,#eca6d6,#eea7d7,#f0a8d7,#f1a9d8)"></i><i style="background:linear-gradient(90deg,#885fb2,#8c62b3,#9065b5,#9468b6,#986bb8,#9c6eb9,#a070ba,#a473bc,#a775bd,#ab78be,#ae7ac0,#b27dc1,#b57fc2,#b982c3,#bc84c5,#c086c6,#c389c7,#c78cc9,#cb8eca,#ce91cb,#d293cd,#d696ce,#d998cf,#dd9bd0,#e09dd2,#e39fd3,#e6a1d4,#e8a3d5,#eaa4d5,#eca6d6,#eea7d7,#efa8d7,#f1a9d8)"></i><i style="background:linear-gradient(90deg,#875fb1,#8b62b3,#8f64b4,#9367b6,#976ab7,#9b6db8,#9e6fba,#a272bb,#a674bc,#a977be,#ad79bf,#b07cc0,#b47ec2,#b781c3,#bb83c4,#bf86c5,#c288c7,#c68bc8,#ca8eca,#cd90cb,#d193cc,#d595ce,#d998cf,#dc9bd0,#e09dd2,#e39fd3,#e5a1d4,#e8a3d5,#eaa4d5,#eca6d6,#eea7d7,#efa8d7,#f1a9d8)"></i><i style="background:linear-gradient(90deg,#855eb1,#8a61b2,#8e63b4,#9266b5,#9669b7,#996cb8,#9d6eb9,#a171bb,#a473bc,#a876bd,#ac78bf,#af7bc0,#b37dc1,#b680c2,#ba82c4,#bd85c5,#c188c6,#c58ac8,#c98dc9,#cd90cb,#d092cc,#d495cd,#d898cf,#dc9ad0,#df9dd1,#e29fd3,#e5a1d4,#e8a3d4,#eaa4d5,#eca5d6,#eda7d7,#efa8d7,#f1a9d8)"></i><i style="background:linear-gradient(90deg,#845db0,#8860b2,#8c62b3,#9065b5,#9468b6,#986bb7,#9c6db9,#9f70ba,#a372bb,#a775bd,#aa78be,#ae7abf,#b17dc1,#b57fc2,#b982c3,#bc84c5,#c087c6,#c48ac7,#c88cc9,#cc8fca,#d092cc,#d394cd,#d797cf,#db9ad0,#df9cd1,#e29fd2,#e5a1d3,#e7a2d4,#e9a4d5,#eba5d6,#eda7d7,#efa8d7,#f1a9d8)"></i><i style="background:linear-gradient(90deg,#825cb0,#875fb1,#8b61b3,#8f64b4,#9367b6,#976ab7,#9a6cb8,#9e6fba,#a272bb,#a574bc,#a977be,#ad79bf,#b07cc0,#b47ec2,#b781c3,#bb83c4,#bf86c6,#c389c7,#c78cc8,#cb8eca,#cf91cb,#d394cd,#d797ce,#da99d0,#de9cd1,#e19ed2,#e4a0d3,#e7a2d4,#e9a4d5,#eba5d6,#eda6d6,#efa8d7,#f1a9d8)"></i><i style="background:linear-gradient(90deg,#815baf,#855eb1,#8960b2,#8d63b4,#9166b5,#9569b6,#996bb8,#9d6eb9,#a071ba,#a473bc,#a876bd,#ab78be,#af7bc0,#b37dc1,#b680c2,#ba83c4,#be85c5,#c288c7,#c68bc8,#ca8eca,#ce91cb,#d293cd,#d696ce,#da99cf,#de9cd1,#e19ed2,#e4a0d3,#e7a2d4,#e9a4d5,#eba5d6,#eda6d6,#efa7d7,#f0a9d8)"></i><i style="background:linear-gradient(90deg,#805aaf,#845db0,#885fb2,#8c62b3,#9065b4,#9468b6,#986ab7,#9b6db9,#9f70ba,#a372bb,#a675bd,#aa77be,#ae7abf,#b17cc1,#b57fc2,#b982c3,#bd84c5,#c187c6,#c58ac8,#c98dc9,#cd90cb,#d193cc,#d596ce,#d999cf,#dd9bd1,#e19ed2,#e4a0d3,#e6a2d4,#e9a3d5,#eba5d6,#eda6d6,#eea7d7,#f0a9d8)"></i><i style="background:linear-gradient(90deg,#7e59ae,#825cb0,#865eb1,#8a61b3,#8e64b4,#9267b5,#9669b7,#9a6cb8,#9d6fb9,#a171bb,#a574bc,#a876bd,#ac79bf,#b07cc0,#b47ec2,#b881c3,#bc84c4,#c086c6,#c489c7,#c88cc9,#cc8fca,#d092cc,#d595ce,#d998cf,#dd9bd0,#e09dd2,#e3a0d3,#e6a1d4,#e8a3d5,#eba5d6,#eca6d6,#eea7d7,#f0a9d8)"></i><i style="background:linear-gradient(90deg,#7d58ad,#815aaf,#855db1,#8960b2,#8d63b3,#9166b5,#9568b6,#986bb8,#9c6eb9,#a070ba,#a373bc,#a775bd,#ab78be,#af7bc0,#b27dc1,#b680c3,#ba83c4,#be86c5,#c389c7,#c78cc9,#cb8fca,#d092cc,#d495cd,#d898cf,#dc9ad0,#e09dd2,#e39fd3,#e6a1d4,#e8a3d5,#eaa4d5,#eca6d6,#eea7d7,#f0a8d8)"></i><i style="background:linear-gradient(90deg,#7b56ad,#7f59ae,#845cb0,#885fb1,#8b62b3,#8f65b4,#9367b6,#976ab7,#9b6db8,#9e6fba,#a272bb,#a674bc,#a977be,#ad7abf,#b17cc1,#b57fc2,#b982c4,#bd85c5,#c288c7,#c68bc8,#ca8eca,#cf91cb,#d394cd,#d797cf,#db9ad0,#df9dd1,#e29fd3,#e5a1d4,#e8a3d5,#eaa4d5,#eca6d6,#eea7d7,#f0a8d7)"></i><i style="background:linear-gradient(90deg,#7a55ac,#7e58ae,#825baf,#865eb1,#8a61b2,#8e64b4,#9266b5,#9569b6,#996bb8,#9d6eb9,#a071bb,#a473bc,#a876bd,#ac79bf,#b07bc0,#b47ec2,#b881c3,#bc84c5,#c087c6,#c58ac8,#c98dc9,#ce91cb,#d294cd,#d797ce,#db9ad0,#df9cd1,#e29fd2,#e5a1d4,#e8a3d4,#eaa4d5,#eca6d6,#eea7d7,#f0a8d7)"></i><i style="background:linear-gradient(90deg,#7854ac,#7c57ad,#805aaf,#855db0,#8860b2,#8c63b3,#9065b5,#9468b6,#986ab7,#9b6db9,#9f70ba,#a372bb,#a775bd,#ab78be,#ae7ac0,#b37dc1,#b780c3,#bb83c4,#bf86c6,#c489c7,#c88dc9,#cd90cb,#d293cc,#d696ce,#da99d0,#de9cd1,#e29ed2,#e5a0d3,#e7a2d4,#eaa4d5,#eca5d6,#eea7d7,#f0a8d7)"></i><i style="background:linear-gradient(90deg,#7753ab,#7b56ad,#7f59ae,#835cb0,#875fb1,#8b61b3,#8f64b4,#9267b5,#9669b7,#9a6cb8,#9d6fb9,#a171bb,#a574bc,#a977be,#ad7abf,#b17cc1,#b57fc2,#ba82c4,#be85c5,#c389c7,#c78cc9,#cc8fca,#d193cc,#d596ce,#da99cf,#de9cd1,#e19ed2,#e4a0d3,#e7a2d4,#e9a4d5,#eba5d6,#eda7d7,#efa8d7)"></i><i style="background:linear-gradient(90deg,#7552ab,#7955ac,#7d58ae,#815baf,#855eb1,#8960b2,#8d63b3,#9166b5,#9568b6,#986bb8,#9c6db9,#a070ba,#a473bc,#a876bd,#ac79bf,#b07bc0,#b47ec2,#b881c3,#bd85c5,#c288c7,#c68bc8,#cb8fca,#d092cc,#d595ce,#d998cf,#dd9bd1,#e19ed2,#e4a0d3,#e7a2d4,#e9a4d5,#eba5d6,#eda7d7,#efa8d7)"></i><i style="background:linear-gradient(90deg,#7351aa,#7854ac,#7c57ad,#805aaf,#845db0,#885fb2,#8c62b3,#8f65b4,#9367b6,#976ab7,#9a6cb8,#9e6fba,#a272bb,#a675bd,#aa78be,#ae7ac0,#b37dc1,#b781c3,#bc84c4,#c187c6,#c58bc8,#ca8eca,#cf91cc,#d495cd,#d898cf,#dd9bd0,#e09dd2,#e3a0d3,#e6a2d4,#e9a3d5,#eba5d6,#eda6d6,#efa8d7)"></i><i style="background:linear-gradient(90deg,#7250aa,#7653ab,#7a56ad,#7e59ae,#825bb0,#865eb1,#8a61b2,#8e63b4,#9166b5,#9569b6,#996bb8,#9d6eb9,#a171bb,#a574bc,#a977be,#ad79bf,#b17cc1,#b680c2,#bb83c4,#bf86c6,#c48ac8,#c98dc9,#ce91cb,#d394cd,#d897cf,#dc9ad0,#e09dd2,#e39fd3,#e6a1d4,#e9a3d5,#eba5d6,#eda6d6,#efa8d7)"></i><i style="background:linear-gradient(90deg,#704fa9,#7552ab,#7955ac,#7d58ae,#815aaf,#855db0,#8860b2,#8c62b3,#9065b4,#9368b6,#976ab7,#9b6db9,#9f70ba,#a373bc,#a775bd,#ac78bf,#b07cc0,#b47fc2,#b982c4,#be86c5,#c389c7,#c88dc9,#cd90cb,#d294cd,#d797ce,#db9ad0,#df9dd1,#e39fd3,#e6a1d4,#e8a3d5,#eba5d6,#eda6d6,#efa8d7)"></i><i style="background:linear-gradient(90deg,#6f4ea8,#7351aa,#7754ab,#7b56ad,#7f59ae,#835cb0,#875fb1,#8a61b3,#8e64b4,#9266b5,#9669b7,#9a6cb8,#9e6fb9,#a272bb,#a674bc,#aa77be,#af7bc0,#b37ec1,#b881c3,#bd85c5,#c288c7,#c78cc9,#cd90cb,#d293cc,#d696ce,#db9ad0,#df9cd1,#e29fd3,#e5a1d4,#e8a3d5,#eaa5d5,#eda6d6,#efa8d7)"></i><i style="background:linear-gradient(90deg,#6d4da8,#7150a9,#7653ab,#7a55ac,#7e58ae,#815baf,#855db1,#8960b2,#8d63b3,#9065b5,#9468b6,#986bb7,#9c6db9,#a070ba,#a473bc,#a976be,#ad79bf,#b27dc1,#b780c3,#bc84c4,#c188c6,#c68bc8,#cc8fca,#d193cc,#d696ce,#da99d0,#de9cd1,#e29fd2,#e5a1d3,#e8a3d4,#eaa4d5,#eca6d6,#efa8d7)"></i><i style="background:linear-gradient(90deg,#6b4ba7,#704ea9,#7451aa,#7854ac,#7c57ad,#805aaf,#845cb0,#875fb1,#8b61b3,#8f64b4,#9267b5,#9669b7,#9a6cb8,#9f6fba,#a372bb,#a775bd,#ac78bf,#b07cc0,#b57fc2,#bb83c4,#c087c6,#c58bc8,#cb8eca,#d092cc,#d595ce,#da99cf,#de9cd1,#e19ed2,#e5a0d3,#e7a2d4,#eaa4d5,#eca6d6,#efa7d7)"></i><i style="background:linear-gradient(90deg,#6a4aa7,#6e4da8,#7250aa,#7653ab,#7a56ad,#7e59ae,#825baf,#865eb1,#8960b2,#8d63b3,#9166b5,#9568b6,#996bb8,#9d6eb9,#a171bb,#a674bc,#aa77be,#af7bc0,#b47ec2,#b982c4,#bf86c6,#c48ac8,#ca8eca,#cf91cc,#d495cd,#d998cf,#dd9bd1,#e19ed2,#e4a0d3,#e7a2d4,#eaa4d5,#eca6d6,#eea7d7)"></i><i style="background:linear-gradient(90deg,#6849a6,#6c4ca8,#714fa9,#7552ab,#7955ac,#7c57ad,#805aaf,#845db0,#885fb1,#8b62b3,#8f64b4,#9367b6,#976ab7,#9b6db9,#a070ba,#a473bc,#a976bd,#ad7abf,#b37dc1,#b881c3,#be85c5,#c389c7,#c98dc9,#ce91cb,#d394cd,#d898cf,#dd9bd0,#e09ed2,#e4a0d3,#e7a2d4,#e9a4d5,#eca6d6,#eea7d7)"></i><i style="background:linear-gradient(90deg,#6648a5,#6b4ba7,#6f4ea8,#7351aa,#7754ab,#7b56ad,#7f59ae,#825baf,#865eb1,#8a61b2,#8d63b4,#9166b5,#9569b6,#9a6cb8,#9e6fba,#a272bb,#a775bd,#ac79bf,#b17cc1,#b780c3,#bc84c5,#c288c7,#c88cc9,#cd90cb,#d394cd,#d897cf,#dc9ad0,#e09dd2,#e3a0d3,#e6a2d4,#e9a4d5,#eca5d6,#eea7d7)"></i><i style="background:linear-gradient(90deg,#6547a5,#694aa6,#6d4da8,#7150a9,#7552ab,#7955ac,#7d58ae,#815aaf,#845db0,#885fb2,#8c62b3,#8f65b4,#9368b6,#986bb7,#9c6eb9,#a171bb,#a574bc,#aa78be,#b07bc0,#b57fc2,#bb83c4,#c188c6,#c78cc9,#cd90cb,#d293cd,#d797ce,#db9ad0,#df9dd1,#e39fd3,#e6a1d4,#e9a3d5,#eba5d6,#eea7d7)"></i><i style="background:linear-gradient(90deg,#6346a4,#6749a6,#6c4ca7,#704ea9,#7451aa,#7754ac,#7b56ad,#7f59ae,#825cb0,#865eb1,#8a61b2,#8e63b4,#9266b5,#9669b7,#9b6cb8,#9f70ba,#a473bc,#a977be,#ae7ac0,#b47ec2,#ba83c4,#c087c6,#c68bc8,#cc8fca,#d193cc,#d696ce,#db9ad0,#df9cd1,#e39fd3,#e6a1d4,#e9a3d5,#eba5d6,#eea7d7)"></i><i style="background:linear-gradient(90deg,#6144a4,#6647a5,#6a4aa7,#6e4da8,#7250aa,#7653ab,#7955ac,#7d58ae,#815aaf,#845db0,#885fb2,#8c62b3,#9065b4,#9468b6,#996bb8,#9d6fb9,#a272bb,#a775bd,#ad79bf,#b37dc1,#b982c3,#bf86c6,#c58ac8,#cb8eca,#d092cc,#d696ce,#da99d0,#de9cd1,#e29fd2,#e5a1d4,#e8a3d5,#eba5d6,#eda7d7)"></i><i style="background:linear-gradient(90deg,#6043a3,#6446a4,#6849a6,#6c4ca8,#704fa9,#7451aa,#7854ac,#7b57ad,#7f59ae,#835cb0,#865eb1,#8a61b2,#8e64b4,#9267b5,#976ab7,#9c6db9,#a171bb,#a674bc,#ab78be,#b17cc1,#b781c3,#be85c5,#c48ac7,#ca8eca,#d092cc,#d595ce,#da99cf,#de9cd1,#e29ed2,#e5a1d4,#e8a3d5,#eba5d6,#eda7d7)"></i><i style="background:linear-gradient(90deg,#5e42a2,#6245a4,#6748a5,#6b4ba7,#6f4ea8,#7250aa,#7653ab,#7a55ac,#7d58ae,#815aaf,#845db0,#8860b2,#8c62b3,#9166b5,#9569b6,#9a6cb8,#9f70ba,#a473bc,#aa77be,#b07bc0,#b680c2,#bd84c5,#c389c7,#c98dc9,#cf91cb,#d495cd,#d998cf,#dd9bd1,#e19ed2,#e5a0d3,#e8a3d4,#eaa5d5,#eda6d6)"></i><i style="background:linear-gradient(90deg,#5c41a2,#6144a3,#6547a5,#694aa6,#6d4ca8,#714fa9,#7452aa,#7854ac,#7b57ad,#7f59ae,#835cb0,#865eb1,#8a61b3,#8f64b4,#9367b6,#986bb8,#9d6eb9,#a272bb,#a876bd,#ae7ac0,#b57fc2,#bb84c4,#c288c7,#c88cc9,#ce91cb,#d394cd,#d898cf,#dd9bd0,#e19ed2,#e4a0d3,#e7a2d4,#eaa4d5,#eda6d6)"></i><i style="background:linear-gradient(90deg,#5b40a1,#5f43a3,#6346a4,#6748a6,#6b4ba7,#6f4ea8,#7250aa,#7653ab,#7955ac,#7d58ae,#815aaf,#855db0,#8960b2,#8d63b3,#9266b5,#966ab7,#9b6db9,#a171bb,#a775bd,#ad79bf,#b37ec1,#ba83c4,#c187c6,#c78cc9,#cd90cb,#d394cd,#d897cf,#dc9bd0,#e09dd2,#e4a0d3,#e7a2d4,#eaa4d5,#eda6d6)"></i><i style="background:linear-gradient(90deg,#593ea0,#5d41a2,#6144a3,#6547a5,#694aa6,#6d4da8,#714fa9,#7452aa,#7854ac,#7b57ad,#7f59ae,#835cb0,#875fb1,#8b62b3,#9065b4,#9568b6,#9a6cb8,#9f70ba,#a574bc,#ab78bf,#b27dc1,#b982c3,#c087c6,#c68bc8,#cc8fca,#d293cd,#d797ce,#dc9ad0,#e09dd2,#e3a0d3,#e7a2d4,#eaa4d5,#eca6d6)"></i><i style="background:linear-gradient(90deg,#573da0,#5b40a1,#6043a3,#6446a4,#6849a6,#6b4ba7,#6f4ea8,#7250aa,#7653ab,#7955ac,#7d58ae,#815aaf,#855db0,#8960b2,#8e64b4,#9367b6,#986bb7,#9d6fb9,#a473bc,#aa77be,#b17cc0,#b881c3,#bf86c6,#c58ac8,#cb8fca,#d193cc,#d696ce,#db9ad0,#df9dd1,#e39fd3,#e6a2d4,#e9a4d5,#eca6d6)"></i><i style="background:linear-gradient(90deg,#553c9f,#5a3fa1,#5e42a2,#6245a4,#6647a5,#6a4aa6,#6d4da8,#704fa9,#7451aa,#7854ac,#7b56ad,#7f59ae,#835cb0,#875fb1,#8c62b3,#9166b5,#9669b7,#9c6db9,#a272bb,#a976bd,#af7bc0,#b680c3,#bd85c5,#c48ac8,#ca8eca,#d092cc,#d696ce,#da99d0,#df9cd1,#e29fd3,#e6a1d4,#e9a3d5,#eca5d6)"></i><i style="background:linear-gradient(90deg,#533b9e,#583ea0,#5c41a2,#6043a3,#6446a4,#6849a6,#6b4ba7,#6f4ea8,#7250aa,#7653ab,#7955ac,#7d58ae,#815baf,#865eb1,#8a61b2,#8f65b4,#9468b6,#9a6cb8,#a071ba,#a775bd,#ae7abf,#b57fc2,#bc84c5,#c389c7,#c98dc9,#cf92cc,#d595ce,#da99cf,#de9cd1,#e29fd2,#e5a1d4,#e9a3d5,#eba5d6)"></i><i style="background:linear-gradient(90deg,#52399e,#563c9f,#5a3fa1,#5e42a2,#6245a4,#6648a5,#694aa6,#6d4ca8,#704fa9,#7451aa,#7754ac,#7b56ad,#7f59ae,#845cb0,#8860b2,#8d63b4,#9367b6,#986bb8,#9f6fba,#a674bc,#ad79bf,#b47ec2,#bb83c4,#c288c7,#c98dc9,#cf91cb,#d495cd,#d998cf,#de9cd1,#e29ed2,#e5a1d4,#e8a3d5,#eba5d6)"></i><i style="background:linear-gradient(90deg,#50389d,#543b9f,#583ea0,#5c41a2,#6044a3,#6446a4,#6749a6,#6b4ba7,#6e4da8,#7250aa,#7653ab,#7955ac,#7d58ae,#825baf,#875eb1,#8c62b3,#9166b5,#976ab7,#9d6eb9,#a473bc,#ab78be,#b37dc1,#ba83c4,#c188c6,#c88cc9,#ce90cb,#d394cd,#d898cf,#dd9bd1,#e19ed2,#e5a0d3,#e8a3d5,#eba5d6)"></i><i style="background:linear-gradient(90deg,#4e379c,#523a9e,#563da0,#5b40a1,#5f42a2,#6245a4,#6647a5,#694aa6,#6c4ca8,#704fa9,#7451aa,#7754ac,#7c57ad,#805aaf,#855db0,#8a61b2,#8f64b4,#9569b6,#9c6db9,#a372bb,#aa77be,#b17dc1,#b982c3,#c087c6,#c78bc8,#cd90cb,#d394cd,#d897cf,#dc9bd0,#e19ed2,#e4a0d3,#e7a2d4,#eaa5d5)"></i><i style="background:linear-gradient(90deg,#4c359c,#50389d,#553b9f,#593ea0,#5d41a2,#6044a3,#6446a4,#6748a6,#6b4ba7,#6e4da8,#7250a9,#7653ab,#7a55ac,#7e58ae,#835cb0,#885fb2,#8d63b4,#9367b6,#9a6cb8,#a171bb,#a976bd,#b07cc0,#b881c3,#bf86c6,#c68bc8,#cc8fca,#d293cd,#d797ce,#dc9ad0,#e09dd2,#e4a0d3,#e7a2d4,#eaa4d5)"></i><i style="background:linear-gradient(90deg,#4a349b,#4f379d,#533a9e,#573da0,#5b40a1,#5e42a2,#6245a4,#6547a5,#6949a6,#6c4ca7,#704fa9,#7451aa,#7854ac,#7c57ad,#815baf,#865eb1,#8c62b3,#9266b5,#986bb8,#a070ba,#a775bd,#af7bc0,#b780c3,#be85c5,#c58ac8,#cb8fca,#d193cc,#d696ce,#db9ad0,#df9dd1,#e3a0d3,#e7a2d4,#eaa4d5)"></i><i style="background:linear-gradient(90deg,#48339a,#4d369c,#51399d,#553c9f,#593ea0,#5d41a2,#6043a3,#6346a4,#6748a5,#6a4ba7,#6e4da8,#7250aa,#7653ab,#7a56ad,#7f59ae,#845db0,#8a61b2,#9065b4,#976ab7,#9e6fba,#a674bc,#ae7abf,#b57fc2,#bd85c5,#c489c7,#ca8eca,#d092cc,#d696ce,#db99d0,#df9cd1,#e39fd3,#e6a2d4,#e9a4d5)"></i><i style="background:linear-gradient(90deg,#47329a,#4b359b,#4f379d,#533a9e,#573da0,#5b40a1,#5e42a2,#6144a3,#6547a5,#6849a6,#6c4ca7,#704fa9,#7451aa,#7855ac,#7d58ae,#825cb0,#885fb2,#8e64b4,#9569b6,#9c6eb9,#a473bc,#ac79bf,#b47ec2,#bc84c4,#c389c7,#c98dc9,#cf92cc,#d595ce,#da99cf,#de9cd1,#e29fd3,#e6a1d4,#e9a3d5)"></i><i style="background:linear-gradient(90deg,#453099,#49339b,#4d369c,#51399e,#553c9f,#593ea0,#5c41a2,#5f43a3,#6345a4,#6648a5,#6a4ba7,#6e4da8,#7250aa,#7753ab,#7b57ad,#815aaf,#865eb1,#8d63b3,#9368b6,#9b6db9,#a372bb,#ab78be,#b37ec1,#bb83c4,#c288c7,#c88dc9,#cf91cb,#d495cd,#d998cf,#de9cd1,#e29ed2,#e5a1d4,#e8a3d5)"></i><i style="background:linear-gradient(90deg,#432f98,#47329a,#4b359b,#4f389d,#533a9e,#573da0,#5a3fa1,#5d42a2,#6144a3,#6547a5,#6849a6,#6c4ca7,#704fa9,#7552ab,#7a55ac,#7f59ae,#845db0,#8b61b3,#9266b5,#996cb8,#a171bb,#aa77be,#b27dc1,#b982c4,#c187c6,#c88cc9,#ce90cb,#d394cd,#d998cf,#dd9bd1,#e19ed2,#e5a1d3,#e8a3d5)"></i><i style="background:linear-gradient(90deg,#412e98,#453199,#49339b,#4d369c,#51399e,#553c9f,#583ea0,#5c40a1,#5f43a3,#6345a4,#6648a5,#6a4ba7,#6e4ea8,#7351aa,#7854ac,#7d58ae,#835cb0,#8960b2,#9065b5,#986bb7,#a070ba,#a876bd,#b17cc0,#b881c3,#c087c6,#c78bc8,#cd90cb,#d394cd,#d898cf,#dd9bd0,#e19ed2,#e4a0d3,#e8a3d4)"></i><i style="background:linear-gradient(90deg,#3f2c97,#432f99,#47329a,#4b359b,#4f389d,#533a9e,#563d9f,#5a3fa1,#5d41a2,#6144a3,#6547a5,#6849a6,#6d4ca8,#714fa9,#7653ab,#7b56ad,#815baf,#875fb1,#8f64b4,#966ab7,#9f6fba,#a775bd,#af7bc0,#b781c3,#bf86c6,#c68bc8,#cc8fca,#d293cd,#d797ce,#dc9ad0,#e09dd2,#e4a0d3,#e7a2d4)"></i><i style="background:linear-gradient(90deg,#3d2b96,#412e98,#453199,#49349b,#4d369c,#51399d,#543b9f,#583ea0,#5b40a1,#5f43a3,#6345a4,#6748a5,#6b4ba7,#6f4ea9,#7451aa,#7955ac,#7f59ae,#865eb1,#8d63b3,#9569b6,#9d6eb9,#a674bc,#ae7abf,#b680c2,#be85c5,#c58ac8,#cb8fca,#d193cc,#d697ce,#db9ad0,#df9dd2,#e3a0d3,#e7a2d4)"></i><i style="background:linear-gradient(90deg,#3b2a96,#3f2d97,#442f99,#47329a,#4b359b,#4f379d,#523a9e,#563c9f,#593fa1,#5d41a2,#6144a3,#6547a5,#694aa6,#6d4da8,#7250aa,#7854ac,#7d58ae,#845db0,#8b62b3,#9367b6,#9c6db9,#a473bc,#ad79bf,#b57fc2,#bd84c5,#c489c7,#ca8eca,#d092cc,#d696ce,#db99d0,#df9cd1,#e39fd3,#e6a1d4)"></i><i style="background:linear-gradient(90deg,#392895,#3e2b96,#422e98,#463199,#49349b,#4d369c,#50389d,#543b9f,#573da0,#5b40a1,#5f43a3,#6345a4,#6748a6,#6c4ca7,#714fa9,#7653ab,#7c57ad,#825cb0,#8a61b2,#9266b5,#9a6cb8,#a372bb,#ac78bf,#b47ec2,#bc84c4,#c389c7,#c98dc9,#cf92cc,#d595ce,#da99cf,#de9cd1,#e29fd2,#e6a1d4)"></i><i style="background:linear-gradient(90deg,#382794,#3c2a96,#402d97,#442f99,#47329a,#4b359b,#4e379d,#52399e,#553c9f,#593fa0,#5d41a2,#6144a3,#6547a5,#6a4aa7,#6f4ea8,#7452aa,#7a56ad,#815aaf,#8860b2,#9065b5,#996bb8,#a272bb,#aa78be,#b37dc1,#bb83c4,#c288c7,#c98dc9,#cf91cb,#d495cd,#d998cf,#de9cd1,#e29ed2,#e5a1d4)"></i><i style="background:linear-gradient(90deg,#362694,#3a2995,#3e2b97,#422e98,#453199,#49339b,#4c369c,#50389d,#533b9e,#573da0,#5b40a1,#5f43a3,#6346a4,#6849a6,#6d4ca8,#7250aa,#7855ac,#7f59ae,#875fb1,#8f64b4,#986ab7,#a071bb,#a977be,#b27dc1,#b982c4,#c187c6,#c88cc9,#ce90cb,#d394cd,#d898cf,#dd9bd1,#e19ed2,#e4a0d3)"></i><i style="background:linear-gradient(90deg,#342493,#382794,#3c2a96,#402d97,#442f99,#47329a,#4b349b,#4e379c,#52399e,#553c9f,#593fa1,#5d42a2,#6245a4,#6648a5,#6b4ba7,#714fa9,#7753ab,#7e58ae,#855db1,#8d63b4,#9669b7,#9f70ba,#a876bd,#b07cc0,#b881c3,#c087c6,#c78bc8,#cd90cb,#d394cd,#d897cf,#dc9bd0,#e09dd2,#e4a0d3)"></i><i style="background:linear-gradient(90deg,#322392,#362694,#3a2995,#3e2b97,#422e98,#453199,#49339a,#4c359c,#50389d,#533b9e,#573da0,#5c40a1,#6043a3,#6447a5,#694aa6,#6f4ea8,#7552ab,#7c57ad,#845cb0,#8c62b3,#9568b6,#9e6fba,#a775bd,#af7bc0,#b781c3,#bf86c6,#c68bc8,#cc8fca,#d293cc,#d797ce,#dc9ad0,#e09dd2,#e39fd3)"></i><i style="background:linear-gradient(90deg,#302291,#342493,#382794,#3c2a96,#402d97,#432f99,#47329a,#4a349b,#4e379c,#52399e,#563c9f,#5a3fa1,#5e42a2,#6345a4,#6849a6,#6d4da8,#7351aa,#7a56ad,#825baf,#8a61b2,#9367b6,#9c6eb9,#a574bc,#ae7abf,#b680c2,#be85c5,#c58ac8,#cb8fca,#d193cc,#d696ce,#db9ad0,#df9cd1,#e39fd3)"></i><i style="background:linear-gradient(90deg,#2e2091,#322392,#362694,#3a2995,#3e2b97,#412e98,#453099,#48339a,#4c359c,#50389d,#543b9f,#583ea0,#5c41a2,#6144a3,#6648a5,#6c4ca7,#7250aa,#7955ac,#805aaf,#8960b2,#9266b5,#9b6db9,#a473bc,#ad79bf,#b57fc2,#bd84c5,#c489c7,#ca8eca,#d092cc,#d596ce,#da99d0,#de9cd1,#e29fd2)"></i><i style="background:linear-gradient(90deg,#2c1f90,#302292,#342593,#382794,#3c2a96,#3f2c97,#432f98,#46319a,#4a349b,#4e379c,#52399e,#563c9f,#5b40a1,#5f43a3,#6446a5,#6a4aa7,#704fa9,#7754ab,#7f59ae,#875fb1,#9065b5,#9a6cb8,#a372bb,#ac78bf,#b47ec2,#bc84c4,#c389c7,#c98dc9,#cf91cc,#d495cd,#d998cf,#dd9bd1,#e19ed2)"></i><i style="background:linear-gradient(90deg,#2a1e8f,#2e2091,#322392,#362694,#3a2995,#3d2b96,#412e98,#443099,#48339a,#4c359c,#50389d,#543b9f,#593ea0,#5e42a2,#6345a4,#6849a6,#6f4ea8,#7653ab,#7d58ae,#865eb1,#8f64b4,#986bb8,#a271bb,#aa78be,#b37dc1,#bb83c4,#c288c7,#c88dc9,#ce91cb,#d495cd,#d898cf,#dd9bd0,#e09ed2)"></i><i style="background:linear-gradient(90deg,#281c8f,#2c1f90,#302292,#342593,#382794,#3c2a96,#3f2c97,#422f98,#46319a,#4a349b,#4e379d,#533a9e,#573da0,#5c40a1,#6144a3,#6748a5,#6d4da8,#7452aa,#7c57ad,#855db0,#8e63b4,#976ab7,#a071ba,#a977be,#b27dc1,#b982c4,#c187c6,#c78cc9,#cd90cb,#d394cd,#d897cf,#dc9ad0,#e09dd2)"></i><i style="background:linear-gradient(90deg,#261b8e,#2a1e8f,#2e2191,#322392,#362694,#3a2895,#3d2b96,#412d98,#443099,#48339a,#4c369c,#51399d,#553c9f,#5a3fa1,#5f43a3,#6547a5,#6c4ba7,#7350aa,#7a56ad,#835cb0,#8c62b3,#9669b7,#9f70ba,#a876bd,#b07cc0,#b881c3,#c086c6,#c68bc8,#cc8fcb,#d293cd,#d797ce,#db9ad0,#df9dd1)"></i><i style="background:linear-gradient(90deg,#241a8d,#281c8f,#2c1f90,#302292,#342593,#382794,#3b2a96,#3f2c97,#422f98,#46319a,#4b349b,#4f379d,#543b9f,#583ea0,#5e42a2,#6446a4,#6a4aa7,#714fa9,#7955ac,#825baf,#8b62b3,#9468b6,#9e6fba,#a775bd,#af7bc0,#b781c3,#bf86c5,#c58ac8,#cb8fca,#d193cc,#d696ce,#da99d0,#de9cd1)"></i><i style="background:linear-gradient(90deg,#22188d,#261b8e,#2b1e90,#2e2191,#322392,#362694,#392895,#3d2b96,#412d98,#453099,#49339b,#4d369c,#523a9e,#573da0,#5c41a2,#6245a4,#6849a6,#704ea9,#7854ac,#805aaf,#8a61b2,#9367b6,#9d6eb9,#a674bc,#ae7abf,#b680c2,#bd85c5,#c48ac8,#ca8eca,#d092cc,#d595ce,#d999cf,#dd9bd1)"></i><i style="background:linear-gradient(90deg,#21178c,#251a8d,#291d8f,#2d1f90,#302292,#342493,#382794,#3b2996,#3f2c97,#432f98,#47329a,#4c359c,#50389d,#553c9f,#5b40a1,#6044a3,#6748a6,#6e4da8,#7653ab,#7f59ae,#8860b2,#9266b5,#9b6db9,#a473bc,#ad79bf,#b57fc2,#bc84c5,#c389c7,#c98dc9,#cf91cb,#d495cd,#d998cf,#dc9bd0)"></i><i style="background:linear-gradient(90deg,#1f158b,#23188d,#271b8e,#2b1e90,#2e2191,#322392,#362694,#392895,#3d2b96,#412e98,#453199,#4a349b,#4f379d,#543b9e,#593ea0,#5f43a3,#6547a5,#6d4ca8,#7552ab,#7d58ae,#875fb1,#9065b5,#9a6cb8,#a372bb,#ac78bf,#b47ec2,#bb83c4,#c288c7,#c88dc9,#ce91cb,#d394cd,#d897cf,#dc9ad0)"></i><i style="background:linear-gradient(90deg,#1d148a,#21178c,#251a8d,#291d8f,#2d1f90,#302292,#342493,#372794,#3b2a96,#3f2c97,#443099,#48339a,#4d369c,#523a9e,#573da0,#5d42a2,#6446a4,#6b4ba7,#7351aa,#7c57ad,#855eb1,#8f64b4,#996bb8,#a272bb,#aa78be,#b27dc1,#ba83c4,#c187c6,#c78cc9,#cd90cb,#d293cd,#d797ce,#db9ad0)"></i><i style="background:linear-gradient(90deg,#1b138a,#1f168b,#23198d,#271b8e,#2b1e90,#2e2191,#322392,#362694,#3a2895,#3e2b96,#422e98,#47329a,#4b359b,#50389d,#563c9f,#5c40a2,#6245a4,#6a4aa7,#7250aa,#7b56ad,#845db0,#8e63b4,#976ab7,#a071bb,#a977be,#b17cc1,#b982c3,#c087c6,#c68bc8,#cc8fca,#d193cc,#d696ce,#da99cf)"></i><i style="background:linear-gradient(90deg,#191189,#1d148b,#21178c,#251a8e,#291d8f,#2d1f90,#302292,#342493,#382794,#3c2a96,#402d97,#453099,#4a349b,#4f379d,#543b9f,#5a3fa1,#6144a3,#6849a6,#704fa9,#7955ac,#835cb0,#8c63b3,#9669b7,#9f70ba,#a876bd,#b07cc0,#b881c3,#bf86c6,#c58ac8,#cb8eca,#d092cc,#d595ce,#d998cf)"></i><i style="background:linear-gradient(90deg,#171088,#1b138a,#1f168b,#23198d,#271b8e,#2b1e90,#2e2191,#322392,#362694,#3a2995,#3f2c97,#432f99,#48339a,#4d369c,#533a9e,#593ea0,#6043a3,#6748a6,#6f4ea9,#7854ac,#815baf,#8b62b3,#9568b6,#9e6fba,#a775bd,#af7bc0,#b780c3,#be85c5,#c48ac8,#ca8eca,#cf91cc,#d495cd,#d898cf)"></i><i style="background:linear-gradient(90deg,#150f88,#191289,#1d158b,#21178c,#251a8e,#291d8f,#2d1f90,#302292,#342593,#392895,#3d2b96,#422e98,#47329a,#4c359c,#51399e,#573da0,#5e42a2,#6647a5,#6e4da8,#7753ab,#805aaf,#8a61b2,#9367b6,#9d6eb9,#a574bc,#ae7abf,#b57fc2,#bc84c5,#c389c7,#c98dc9,#ce91cb,#d394cd,#d797ce)"></i><i style="background:linear-gradient(90deg,#130d87,#171088,#1b138a,#20168b,#23198d,#271c8e,#2b1e90,#2f2191,#332493,#372794,#3b2a96,#402d97,#453099,#4a349b,#50389d,#563c9f,#5d41a2,#6446a5,#6c4ca8,#7552ab,#7f59ae,#8860b2,#9266b5,#9b6db9,#a473bc,#ac79bf,#b47ec2,#bb83c4,#c288c7,#c88cc9,#cd90cb,#d293cd,#d696ce)"></i><i style="background:linear-gradient(90deg,#110c86,#150f88,#1a1289,#1e158b,#22188c,#251a8e,#291d8f,#2d2090,#312292,#352593,#3a2995,#3f2c97,#432f99,#49339b,#4e379d,#553b9f,#5b40a1,#6345a4,#6b4ba7,#7451aa,#7d58ae,#875fb1,#9166b5,#9a6cb8,#a372bb,#ab78be,#b37ec1,#ba83c4,#c187c6,#c78bc8,#cc8fca,#d193cc,#d596ce)"></i><i style="background:linear-gradient(90deg,#100b86,#140e87,#181189,#1c148a,#20168c,#24198d,#271c8e,#2b1e90,#2f2191,#342493,#382795,#3d2b96,#422e98,#47329a,#4d369c,#533a9e,#5a3fa1,#6144a4,#6a4aa7,#7350aa,#7c57ad,#865eb1,#8f65b4,#996bb8,#a171bb,#aa77be,#b27dc1,#b982c3,#bf86c6,#c58bc8,#cb8eca,#d092cc,#d495cd)"></i><i style="background:linear-gradient(90deg,#0e0a85,#120c86,#160f88,#1a128a,#1e158b,#22188c,#261b8e,#2a1d8f,#2e2091,#322392,#372694,#3b2a96,#402d98,#463199,#4c359c,#52399e,#593ea0,#6043a3,#6849a6,#7150a9,#7b56ad,#845db0,#8e64b4,#976ab7,#a070ba,#a876bd,#b07cc0,#b881c3,#be86c5,#c48ac8,#ca8eca,#cf91cb,#d394cd)"></i><i style="background:linear-gradient(90deg,#0c0884,#100b86,#140e87,#181189,#1c148a,#20178c,#24198d,#281c8f,#2c1f90,#312292,#352593,#3a2995,#3f2c97,#443099,#4a349b,#50389d,#573da0,#5f43a3,#6748a6,#704fa9,#7955ac,#835cb0,#8d63b3,#9669b7,#9f6fba,#a775bd,#af7bc0,#b680c3,#bd85c5,#c389c7,#c98dc9,#ce90cb,#d293cd)"></i><i style="background:linear-gradient(90deg,#0a0784,#0e0a85,#120d87,#171088,#1b138a,#1e158b,#22188d,#261b8e,#2b1e90,#2f2191,#342493,#382895,#3d2b96,#432f98,#49339b,#4f379d,#563c9f,#5d42a2,#6647a5,#6f4ea8,#7854ac,#825baf,#8b62b3,#9568b6,#9d6fb9,#a674bc,#ae7abf,#b57fc2,#bc84c5,#c288c7,#c78cc9,#cc8fcb,#d193cc)"></i><i style="background:linear-gradient(90deg,#080683,#0c0985,#110c86,#150f88,#191189,#1d148a,#21178c,#251a8d,#291d8f,#2d2091,#322392,#372794,#3c2a96,#412e98,#47329a,#4e379c,#553b9f,#5c41a2,#6447a5,#6d4da8,#7753ab,#805aaf,#8a61b2,#9367b6,#9c6eb9,#a573bc,#ac79bf,#b47ec2,#bb83c4,#c187c6,#c68bc8,#cb8fca,#d092cc)"></i></div>
<div class="fill" style="left:886px;top:667px;width:515.4px;height:415.9px"><i style="background:linear-gradient(90deg,#f6adda,#efa7d7,#e7a2d4,#df9dd1,#d797cf,#d092cc,#c88dc9,#c187c6,#b982c4,#b27dc1,#ab78bf,#a574bc,#9f70ba,#9a6cb8,#9468b6,#8f64b4,#8961b2,#845db0,#7f59ae,#7b56ad,#7653ab,#7150a9,#6d4da8,#694aa6,#6647a5,#6245a4,#5f42a3,#5b40a1,#583ea0,#553b9f,#51399e,#4e379c,#4b349b)"></i><i style="background:linear-gradient(90deg,#f6acda,#eea7d7,#e6a1d4,#de9cd1,#d797ce,#cf91cc,#c88cc9,#c087c6,#b982c3,#b17dc1,#ab78be,#a473bc,#9e6fba,#996bb8,#9367b6,#8e64b4,#8960b2,#845cb0,#7f59ae,#7a56ac,#7552ab,#714fa9,#6c4ca8,#6949a6,#6547a5,#6144a3,#5e42a2,#5b40a1,#573da0,#543b9f,#51399d,#4d369c,#4a349b)"></i><i style="background:linear-gradient(90deg,#f5acd9,#eda6d6,#e5a1d4,#de9cd1,#d696ce,#ce91cb,#c78cc9,#bf86c6,#b881c3,#b17cc0,#aa77be,#a373bc,#9e6fb9,#986bb7,#9367b5,#8d63b3,#885fb2,#835cb0,#7e58ae,#7955ac,#7452aa,#704fa9,#6c4ca7,#6849a6,#6446a5,#6144a3,#5d42a2,#5a3fa1,#573da0,#543b9e,#50389d,#4d369c,#4a349b)"></i><i style="background:linear-gradient(90deg,#f4abd9,#eca6d6,#e5a1d3,#dd9bd1,#d596ce,#ce90cb,#c68bc8,#bf86c5,#b780c3,#b07bc0,#a977be,#a372bb,#9d6eb9,#976ab7,#9266b5,#8c63b3,#875fb1,#825baf,#7d58ae,#7854ac,#7451aa,#6f4ea9,#6b4ba7,#6748a6,#6346a4,#6043a3,#5d41a2,#593fa1,#563c9f,#533a9e,#50389d,#4c369c,#49339b)"></i><i style="background:linear-gradient(90deg,#f4abd9,#eca6d6,#e4a0d3,#dc9bd0,#d595ce,#cd90cb,#c58bc8,#be85c5,#b680c2,#af7bc0,#a876bd,#a272bb,#9c6db9,#966ab7,#9166b5,#8c62b3,#875eb1,#815baf,#7c57ad,#7854ac,#7351aa,#6f4ea8,#6a4ba7,#6648a5,#6345a4,#5f43a3,#5c41a2,#593ea0,#563c9f,#523a9e,#4f389d,#4c359c,#49339a)"></i><i style="background:linear-gradient(90deg,#f3aad9,#eba5d6,#e3a0d3,#dc9ad0,#d495cd,#cc8fca,#c58ac8,#bd85c5,#b57fc2,#ae7ac0,#a775bd,#a171bb,#9b6db9,#9669b7,#9065b5,#8b62b3,#865eb1,#815aaf,#7c57ad,#7753ab,#7250aa,#6e4da8,#6a4aa7,#6647a5,#6245a4,#5f42a2,#5b40a1,#583ea0,#553c9f,#52399e,#4f379d,#4b359b,#48339a)"></i><i style="background:linear-gradient(90deg,#f2aad8,#eaa5d5,#e39fd3,#db9ad0,#d394cd,#cb8fca,#c489c7,#bc84c5,#b57fc2,#ad7abf,#a675bd,#a070ba,#9a6cb8,#9568b6,#8f65b4,#8a61b2,#855db1,#805aaf,#7b56ad,#7653ab,#7150a9,#6d4da8,#694aa6,#6547a5,#6144a3,#5e42a2,#5b40a1,#583da0,#543b9f,#51399e,#4e379c,#4b349b,#47329a)"></i><i style="background:linear-gradient(90deg,#f1aad8,#eaa4d5,#e29fd2,#da99d0,#d294cd,#cb8eca,#c389c7,#bb84c4,#b47ec2,#ac79bf,#a674bc,#9f70ba,#9a6cb8,#9468b6,#8f64b4,#8961b2,#845db0,#7f59ae,#7a56ad,#7552ab,#714fa9,#6c4ca8,#6849a6,#6446a5,#6144a3,#5d41a2,#5a3fa1,#573da0,#543b9f,#51399d,#4d369c,#4a349b,#47329a)"></i><i style="background:linear-gradient(90deg,#f1a9d8,#e9a4d5,#e19ed2,#d999cf,#d293cc,#ca8eca,#c288c7,#bb83c4,#b37ec1,#ac79bf,#a574bc,#9e6fba,#996bb8,#9367b6,#8e64b4,#8960b2,#845cb0,#7e59ae,#7955ac,#7552ab,#704fa9,#6c4ca7,#6749a6,#6446a4,#6043a3,#5d41a2,#593fa1,#563d9f,#533a9e,#50389d,#4d369c,#4a349b,#46319a)"></i><i style="background:linear-gradient(90deg,#f0a9d8,#e8a3d5,#e19ed2,#d998cf,#d193cc,#c98dc9,#c288c7,#ba82c4,#b27dc1,#ab78be,#a473bc,#9e6fba,#986bb7,#9267b5,#8d63b4,#885fb2,#835cb0,#7e58ae,#7955ac,#7451aa,#6f4ea9,#6b4ba7,#6748a5,#6345a4,#5f43a3,#5c41a2,#593ea0,#563c9f,#533a9e,#4f389d,#4c369c,#49339b,#463199)"></i><i style="background:linear-gradient(90deg,#efa8d7,#e8a3d4,#e09dd2,#d898cf,#d092cc,#c98dc9,#c187c6,#b982c4,#b17dc1,#aa77be,#a373bc,#9d6eb9,#976ab7,#9266b5,#8c63b3,#875fb1,#825baf,#7d58ae,#7854ac,#7351aa,#6f4ea8,#6a4ba7,#6648a5,#6245a4,#5f42a2,#5b40a1,#583ea0,#553c9f,#523a9e,#4f379d,#4c359c,#49339a,#453199)"></i><i style="background:linear-gradient(90deg,#efa8d7,#e7a2d4,#df9dd1,#d797cf,#d092cc,#c88cc9,#c087c6,#b881c3,#b17cc0,#a977be,#a272bb,#9c6eb9,#966ab7,#9166b5,#8c62b3,#875eb1,#815baf,#7c57ad,#7754ac,#7350aa,#6e4da8,#6a4aa6,#6547a5,#6144a4,#5e42a2,#5b40a1,#573da0,#543b9f,#51399e,#4e379d,#4b359b,#48339a,#453099)"></i><i style="background:linear-gradient(90deg,#eea7d7,#e6a2d4,#de9cd1,#d797ce,#cf91cb,#c78cc9,#bf86c6,#b881c3,#b07bc0,#a876bd,#a271bb,#9b6db9,#9669b7,#9065b5,#8b62b3,#865eb1,#815aaf,#7c57ad,#7753ab,#7250aa,#6d4da8,#694aa6,#6547a5,#6144a3,#5d41a2,#5a3fa1,#573da0,#543b9f,#51399d,#4e379c,#4b349b,#48329a,#443099)"></i><i style="background:linear-gradient(90deg,#eda7d7,#e6a1d4,#de9cd1,#d696ce,#ce91cb,#c68bc8,#bf86c6,#b780c3,#af7bc0,#a876bd,#a171bb,#9b6cb8,#9569b6,#9065b4,#8a61b2,#855db1,#805aaf,#7b56ad,#7653ab,#714fa9,#6c4ca8,#6849a6,#6446a4,#6044a3,#5d41a2,#593fa1,#563d9f,#533a9e,#50389d,#4d369c,#4a349b,#47329a,#443099)"></i><i style="background:linear-gradient(90deg,#eda6d6,#e5a1d3,#dd9bd1,#d596ce,#cd90cb,#c68bc8,#be85c5,#b680c2,#ae7ac0,#a775bd,#a070ba,#9a6cb8,#9468b6,#8f64b4,#8a61b2,#845db0,#7f59ae,#7a56ad,#7552ab,#704fa9,#6c4ca7,#6749a6,#6346a4,#6043a3,#5c41a2,#593ea0,#563c9f,#533a9e,#50389d,#4d369c,#4a349b,#46319a,#432f99)"></i><i style="background:linear-gradient(90deg,#eca6d6,#e4a0d3,#dc9bd0,#d595ce,#cd90cb,#c58ac8,#bd85c5,#b57fc2,#ad7abf,#a675bd,#9f70ba,#996bb8,#9367b6,#8e64b4,#8960b2,#845cb0,#7f59ae,#7a55ac,#7552aa,#704ea9,#6b4ba7,#6748a5,#6345a4,#5f43a3,#5b40a1,#583ea0,#553c9f,#523a9e,#4f379d,#4c359c,#49339b,#46319a,#432f98)"></i><i style="background:linear-gradient(90deg,#eba5d6,#e4a0d3,#dc9ad0,#d495cd,#cc8fca,#c48ac8,#bc84c5,#b47fc2,#ad79bf,#a574bc,#9e6fba,#986bb8,#9367b5,#8d63b4,#8860b2,#835cb0,#7e58ae,#7955ac,#7451aa,#6f4ea8,#6a4ba7,#6648a5,#6245a4,#5e42a2,#5b40a1,#583da0,#543b9f,#51399e,#4e379d,#4b359c,#48339a,#453199,#422e98)"></i><i style="background:linear-gradient(90deg,#eba5d6,#e39fd3,#db9ad0,#d394cd,#cb8fca,#c389c7,#bc84c4,#b47ec2,#ac79bf,#a573bc,#9e6fba,#986ab7,#9266b5,#8d63b3,#875fb1,#825cb0,#7d58ae,#7854ac,#7351aa,#6e4da8,#6a4aa7,#6547a5,#6144a3,#5e42a2,#5a3fa1,#573da0,#543b9f,#51399d,#4e379c,#4b359b,#48339a,#453099,#422e98)"></i><i style="background:linear-gradient(90deg,#eaa4d5,#e29fd3,#da99d0,#d394cd,#cb8eca,#c389c7,#bb83c4,#b37ec1,#ab78be,#a473bc,#9d6eb9,#976ab7,#9166b5,#8c62b3,#875fb1,#825baf,#7d57ad,#7754ac,#7250aa,#6e4da8,#694aa6,#6547a5,#6144a3,#5d41a2,#5a3fa1,#563d9f,#533a9e,#50389d,#4d369c,#4a349b,#47329a,#443099,#412e98)"></i><i style="background:linear-gradient(90deg,#e9a4d5,#e29ed2,#da99cf,#d293cd,#ca8eca,#c288c7,#ba83c4,#b27dc1,#aa78be,#a372bb,#9c6eb9,#9669b7,#9165b5,#8b62b3,#865eb1,#815baf,#7c57ad,#7753ab,#7250a9,#6d4ca8,#6849a6,#6446a4,#6043a3,#5c41a2,#593ea0,#563c9f,#533a9e,#50389d,#4d369c,#4a349b,#47329a,#443099,#412d98)"></i><i style="background:linear-gradient(90deg,#e9a3d5,#e19ed2,#d998cf,#d193cc,#c98dc9,#c188c6,#b982c4,#b17cc1,#aa77be,#a272bb,#9c6db9,#9569b7,#9065b4,#8b61b3,#855eb1,#805aaf,#7b56ad,#7653ab,#714fa9,#6c4ca7,#6849a6,#6346a4,#5f43a3,#5c40a1,#583ea0,#553c9f,#523a9e,#4f389d,#4c369c,#49339b,#46319a,#432f99,#402d97)"></i><i style="background:linear-gradient(90deg,#e8a3d5,#e09dd2,#d898cf,#d092cc,#c98dc9,#c187c6,#b982c3,#b17cc0,#a977be,#a271bb,#9b6db8,#9568b6,#8f65b4,#8a61b2,#855db0,#805aaf,#7a56ad,#7552ab,#704fa9,#6c4ba7,#6748a6,#6345a4,#5f43a3,#5b40a1,#583ea0,#553b9f,#52399e,#4f379d,#4c359c,#49339b,#463199,#432f98,#402d97)"></i><i style="background:linear-gradient(90deg,#e7a2d4,#e09dd2,#d897cf,#d092cc,#c88cc9,#c087c6,#b881c3,#b07bc0,#a876bd,#a171bb,#9a6cb8,#9468b6,#8f64b4,#8960b2,#845db0,#7f59ae,#7a55ac,#7552ab,#704ea9,#6b4ba7,#6648a5,#6245a4,#5e42a2,#5a40a1,#573da0,#543b9f,#51399e,#4e379c,#4b359b,#48339a,#453199,#422f98,#3f2c97)"></i><i style="background:linear-gradient(90deg,#e7a2d4,#df9cd1,#d797ce,#cf91cc,#c78cc9,#bf86c6,#b780c3,#af7bc0,#a775bd,#a070ba,#996cb8,#9367b6,#8e64b4,#8960b2,#835cb0,#7e59ae,#7955ac,#7451aa,#6f4ea8,#6a4ba7,#6647a5,#6144a4,#5e42a2,#5a3fa1,#573da0,#533b9e,#50389d,#4d369c,#4b349b,#48329a,#453099,#422e98,#3f2c97)"></i><i style="background:linear-gradient(90deg,#e6a2d4,#de9cd1,#d696ce,#ce91cb,#c68bc8,#be86c5,#b680c2,#ae7ac0,#a775bd,#9f70ba,#996bb8,#9367b6,#8d63b3,#885fb2,#835cb0,#7e58ae,#7854ac,#7351aa,#6e4da8,#694aa6,#6547a5,#6144a3,#5d41a2,#593fa1,#563c9f,#533a9e,#50389d,#4d369c,#4a349b,#47329a,#443099,#412e98,#3e2c97)"></i><i style="background:linear-gradient(90deg,#e5a1d4,#de9cd1,#d696ce,#ce90cb,#c68bc8,#be85c5,#b67fc2,#ae7abf,#a674bc,#9f6fba,#986bb7,#9267b5,#8c63b3,#875fb1,#825baf,#7d58ae,#7854ac,#7350aa,#6e4da8,#694aa6,#6446a5,#6043a3,#5c41a2,#593ea0,#553c9f,#523a9e,#4f389d,#4c369c,#4a349b,#47329a,#443099,#412d98,#3e2b96)"></i><i style="background:linear-gradient(90deg,#e5a1d3,#dd9bd1,#d596ce,#cd90cb,#c58ac8,#bd85c5,#b57fc2,#ad79bf,#a574bc,#9e6fba,#976ab7,#9166b5,#8c62b3,#875eb1,#815baf,#7c57ad,#7753ab,#7250aa,#6d4ca8,#6849a6,#6446a4,#6043a3,#5c40a1,#583ea0,#553c9f,#52399e,#4f379d,#4c359c,#49339b,#46319a,#432f99,#402d97,#3d2b96)"></i><i style="background:linear-gradient(90deg,#e4a0d3,#dc9bd0,#d495cd,#cc8fcb,#c48ac8,#bc84c5,#b47ec2,#ac79bf,#a473bc,#9d6eb9,#976ab7,#9166b5,#8b62b3,#865eb1,#815aaf,#7b57ad,#7653ab,#714fa9,#6c4ca7,#6749a6,#6346a4,#5f43a3,#5b40a1,#583da0,#543b9f,#51399e,#4e379d,#4b359b,#48339a,#463199,#432f98,#402d97,#3d2b96)"></i><i style="background:linear-gradient(90deg,#e4a0d3,#dc9ad0,#d495cd,#cc8fca,#c489c7,#bb84c4,#b37ec1,#ab78bf,#a473bc,#9d6eb9,#9669b7,#9065b5,#8b61b3,#855db1,#805aaf,#7b56ad,#7653ab,#704fa9,#6c4ba7,#6748a5,#6245a4,#5e42a2,#5a40a1,#573da0,#543b9f,#51399d,#4e369c,#4b349b,#48329a,#453099,#422e98,#3f2c97,#3c2a96)"></i><i style="background:linear-gradient(90deg,#e39fd3,#db9ad0,#d394cd,#cb8eca,#c389c7,#bb83c4,#b37dc1,#ab78be,#a372bb,#9c6db9,#9569b7,#8f65b4,#8a61b2,#855db0,#7f59ae,#7a56ad,#7552ab,#704ea9,#6b4ba7,#6648a5,#6245a4,#5e42a2,#5a3fa1,#563da0,#533a9e,#50389d,#4d369c,#4a349b,#47329a,#453099,#422e98,#3f2c97,#3c2a96)"></i><i style="background:linear-gradient(90deg,#e29fd3,#da99d0,#d294cd,#ca8eca,#c288c7,#ba83c4,#b27dc1,#aa77be,#a272bb,#9b6db9,#9568b6,#8f64b4,#8960b2,#845db0,#7f59ae,#7955ac,#7452aa,#6f4ea9,#6a4ba7,#6547a5,#6144a3,#5d41a2,#593fa1,#563c9f,#533a9e,#4f389d,#4d369c,#4a349b,#47329a,#443099,#412e98,#3e2c97,#3b2a96)"></i><i style="background:linear-gradient(90deg,#e29ed2,#da99cf,#d293cc,#ca8eca,#c288c7,#b982c4,#b17cc1,#a977be,#a271bb,#9b6db8,#9468b6,#8e64b4,#8960b2,#835cb0,#7e58ae,#7955ac,#7351aa,#6e4da8,#694aa6,#6547a5,#6044a3,#5c41a2,#593ea0,#553c9f,#523a9e,#4f379d,#4c359c,#49339b,#46319a,#442f99,#412d98,#3e2b97,#3b2995)"></i><i style="background:linear-gradient(90deg,#e19ed2,#d998cf,#d193cc,#c98dc9,#c187c6,#b982c3,#b17cc0,#a976bd,#a171bb,#9a6cb8,#9468b6,#8e63b4,#885fb2,#835cb0,#7d58ae,#7854ac,#7351aa,#6e4da8,#694aa6,#6446a5,#6043a3,#5c40a1,#583ea0,#553b9f,#51399e,#4e379d,#4b359c,#49339a,#463199,#432f98,#402d97,#3d2b96,#3a2995)"></i><i style="background:linear-gradient(90deg,#e09dd2,#d898cf,#d092cc,#c88dc9,#c087c6,#b881c3,#b07bc0,#a876bd,#a071ba,#996cb8,#9367b6,#8d63b3,#875fb1,#825baf,#7d57ad,#7754ac,#7250aa,#6d4da8,#6849a6,#6446a4,#5f43a3,#5b40a1,#583da0,#543b9f,#51399e,#4e379c,#4b359b,#48339a,#453199,#432f98,#402d97,#3d2b96,#3a2895)"></i><i style="background:linear-gradient(90deg,#e09dd2,#d897cf,#d092cc,#c88cc9,#bf86c6,#b781c3,#af7bc0,#a775bd,#a070ba,#996bb8,#9267b5,#8c63b3,#875fb1,#815baf,#7c57ad,#7753ab,#7150a9,#6c4ca8,#6849a6,#6345a4,#5f42a3,#5b40a1,#573da0,#543b9e,#50389d,#4d369c,#4a349b,#48329a,#453099,#422e98,#3f2c97,#3c2a96,#392895)"></i><i style="background:linear-gradient(90deg,#df9dd1,#d797ce,#cf91cc,#c78cc9,#bf86c6,#b780c3,#ae7ac0,#a775bd,#9f70ba,#986bb7,#9266b5,#8c62b3,#865eb1,#815aaf,#7b57ad,#7653ab,#714fa9,#6c4ca7,#6748a6,#6245a4,#5e42a2,#5a3fa1,#563da0,#533a9e,#50389d,#4d369c,#4a349b,#47329a,#443099,#412e98,#3f2c97,#3c2a96,#392895)"></i><i style="background:linear-gradient(90deg,#de9cd1,#d697ce,#ce91cb,#c68bc8,#be85c5,#b680c2,#ae7abf,#a674bc,#9e6fba,#976ab7,#9166b5,#8b62b3,#855eb1,#805aaf,#7b56ad,#7552ab,#704fa9,#6b4ba7,#6648a5,#6245a4,#5d42a2,#5a3fa1,#563c9f,#523a9e,#4f389d,#4c369c,#49349b,#47329a,#443099,#412e98,#3e2c97,#3b2a96,#382794)"></i><i style="background:linear-gradient(90deg,#de9cd1,#d696ce,#ce90cb,#c68bc8,#bd85c5,#b57fc2,#ad7abf,#a574bc,#9e6fba,#976ab7,#9065b5,#8a61b3,#855db0,#7f59ae,#7a56ac,#7552ab,#6f4ea9,#6a4ba7,#6647a5,#6144a3,#5d41a2,#593ea0,#553c9f,#523a9e,#4f379d,#4c359c,#49339b,#46319a,#432f99,#412d98,#3e2b96,#3b2995,#382794)"></i><i style="background:linear-gradient(90deg,#dd9bd1,#d596ce,#cd90cb,#c58ac8,#bd84c5,#b57fc2,#ac79bf,#a574bc,#9d6eb9,#9669b7,#9065b4,#8a61b2,#845db0,#7f59ae,#7955ac,#7451aa,#6f4ea8,#6a4aa7,#6547a5,#6044a3,#5c41a2,#583ea0,#553c9f,#51399e,#4e379d,#4b359b,#48339a,#463199,#432f98,#402d97,#3d2b96,#3a2995,#372794)"></i><i style="background:linear-gradient(90deg,#dc9bd0,#d495cd,#cc8fcb,#c48ac8,#bc84c5,#b47ec2,#ac79bf,#a473bc,#9c6eb9,#9669b7,#8f65b4,#8960b2,#845cb0,#7e59ae,#7955ac,#7351aa,#6e4da8,#694aa6,#6446a5,#6043a3,#5c40a1,#583ea0,#543b9f,#51399e,#4e379c,#4b349b,#48329a,#453199,#422f98,#402d97,#3d2b96,#3a2995,#372694)"></i><i style="background:linear-gradient(90deg,#dc9ad0,#d495cd,#cc8fca,#c489c7,#bb84c4,#b37ec1,#ab78be,#a373bc,#9c6db9,#9569b6,#8f64b4,#8960b2,#835cb0,#7d58ae,#7854ac,#7350aa,#6d4da8,#6849a6,#6446a4,#5f43a3,#5b40a1,#573da0,#543b9f,#50389d,#4d369c,#4a349b,#47329a,#453099,#422e98,#3f2c97,#3c2a96,#392895,#362694)"></i><i style="background:linear-gradient(90deg,#db9ad0,#d394cd,#cb8fca,#c389c7,#bb83c4,#b37dc1,#aa78be,#a372bb,#9b6db9,#9468b6,#8e64b4,#8860b2,#825cb0,#7d58ae,#7754ac,#7250aa,#6d4ca8,#6849a6,#6346a4,#5f42a2,#5a40a1,#573da0,#533a9e,#50389d,#4d369c,#4a349b,#47329a,#443099,#412e98,#3f2c97,#3c2a96,#392895,#362694)"></i><i style="background:linear-gradient(90deg,#db99d0,#d394cd,#ca8eca,#c288c7,#ba83c4,#b27dc1,#aa77be,#a272bb,#9b6db8,#9468b6,#8d63b4,#875fb1,#825baf,#7c57ad,#7753ab,#7150a9,#6c4ca7,#6748a6,#6245a4,#5e42a2,#5a3fa1,#563c9f,#533a9e,#4f389d,#4c369c,#49339b,#46319a,#442f99,#412e98,#3e2c97,#3b2a96,#382895,#352593)"></i><i style="background:linear-gradient(90deg,#da99cf,#d293cd,#ca8eca,#c288c7,#b982c4,#b17cc1,#a977be,#a171bb,#9a6cb8,#9367b6,#8d63b3,#875fb1,#815baf,#7c57ad,#7653ab,#714fa9,#6c4ba7,#6748a5,#6245a4,#5d42a2,#593fa1,#563c9f,#523a9e,#4f379d,#4c359c,#49339b,#46319a,#432f98,#402d97,#3e2b96,#3b2995,#382794,#352593)"></i><i style="background:linear-gradient(90deg,#d999cf,#d193cc,#c98dc9,#c187c6,#b982c3,#b17cc0,#a976bd,#a171bb,#996cb8,#9367b5,#8c62b3,#865eb1,#815aaf,#7b56ad,#7552ab,#704fa9,#6b4ba7,#6648a5,#6144a3,#5d41a2,#593ea0,#553c9f,#52399e,#4e379d,#4b359b,#48339a,#453199,#432f98,#402d97,#3d2b96,#3a2995,#372794,#342593)"></i><i style="background:linear-gradient(90deg,#d998cf,#d192cc,#c88dc9,#c087c6,#b881c3,#b07cc0,#a876bd,#a070ba,#996bb8,#9267b5,#8c62b3,#865eb1,#805aaf,#7a56ad,#7552ab,#6f4ea9,#6a4ba7,#6547a5,#6144a3,#5c41a2,#583ea0,#553b9f,#51399e,#4e379c,#4b349b,#48329a,#453099,#422e98,#3f2d97,#3d2b96,#3a2995,#372794,#342493)"></i><i style="background:linear-gradient(90deg,#d898cf,#d092cc,#c88cc9,#c087c6,#b881c3,#af7bc0,#a775bd,#a070ba,#986bb8,#9166b5,#8b62b3,#855db1,#7f59ae,#7a55ac,#7452aa,#6f4ea8,#6a4aa7,#6547a5,#6043a3,#5c40a1,#583ea0,#543b9f,#51399d,#4d369c,#4a349b,#47329a,#443099,#422e98,#3f2c97,#3c2a96,#392895,#362694,#332493)"></i><i style="background:linear-gradient(90deg,#d797cf,#cf92cc,#c78cc9,#bf86c6,#b780c3,#af7bc0,#a775bd,#9f70ba,#986bb7,#9166b5,#8b61b3,#845db0,#7f59ae,#7955ac,#7451aa,#6e4da8,#694aa6,#6446a5,#5f43a3,#5b40a1,#573da0,#533b9e,#50389d,#4d369c,#4a349b,#47329a,#443099,#412e98,#3e2c97,#3c2a96,#392895,#362694,#332493)"></i><i style="background:linear-gradient(90deg,#d797ce,#cf91cb,#c78bc8,#be86c5,#b680c2,#ae7ac0,#a675bd,#9e6fba,#976ab7,#9065b5,#8a61b2,#845db0,#7e59ae,#7855ac,#7351aa,#6e4da8,#6849a6,#6346a4,#5f43a3,#5b40a1,#573da0,#533a9e,#50389d,#4c369c,#49339b,#46319a,#442f99,#412d98,#3e2c97,#3b2a96,#382895,#352694,#322392)"></i><i style="background:linear-gradient(90deg,#d696ce,#ce91cb,#c68bc8,#be85c5,#b67fc2,#ae7abf,#a674bc,#9e6fba,#976ab7,#9065b4,#8960b2,#835cb0,#7e58ae,#7854ac,#7250aa,#6d4da8,#6849a6,#6345a4,#5e42a2,#5a3fa1,#563c9f,#523a9e,#4f379d,#4c359c,#49339b,#463199,#432f98,#402d97,#3e2b96,#3b2995,#382794,#352593,#322392)"></i><i style="background:linear-gradient(90deg,#d596ce,#cd90cb,#c58ac8,#bd85c5,#b57fc2,#ad79bf,#a574bc,#9d6eb9,#9669b7,#8f65b4,#8960b2,#835cb0,#7d58ae,#7754ab,#7250a9,#6c4ca8,#6748a6,#6245a4,#5e42a2,#5a3fa1,#563c9f,#523a9e,#4f379d,#4b359b,#48339a,#453199,#432f98,#402d97,#3d2b96,#3a2995,#372794,#352593,#322392)"></i><i style="background:linear-gradient(90deg,#d595ce,#cd90cb,#c58ac8,#bd84c5,#b47fc2,#ac79bf,#a473bc,#9d6eb9,#9569b7,#8f64b4,#8860b2,#825baf,#7c57ad,#7753ab,#714fa9,#6c4ca7,#6748a5,#6245a4,#5d41a2,#593ea0,#553c9f,#51399e,#4e379c,#4b359b,#48329a,#453099,#422e98,#3f2c97,#3d2b96,#3a2995,#372794,#342593,#312292)"></i><i style="background:linear-gradient(90deg,#d495cd,#cc8fca,#c48ac8,#bc84c5,#b47ec2,#ac79bf,#a473bc,#9c6eb9,#9569b6,#8e64b4,#885fb1,#825baf,#7c57ad,#7653ab,#714fa9,#6b4ba7,#6648a5,#6144a3,#5d41a2,#583ea0,#553b9f,#51399e,#4e369c,#4a349b,#47329a,#443099,#422e98,#3f2c97,#3c2a96,#392895,#372694,#342493,#312292)"></i><i style="background:linear-gradient(90deg,#d495cd,#cc8fca,#c389c7,#bb83c4,#b37ec1,#ab78be,#a373bc,#9c6db9,#9468b6,#8e63b4,#875fb1,#815baf,#7b56ad,#7552ab,#704fa9,#6b4ba7,#6547a5,#6144a3,#5c41a2,#583ea0,#543b9f,#50389d,#4d369c,#4a349b,#47329a,#443099,#412e98,#3e2c97,#3c2a96,#392895,#362694,#332493,#302292)"></i><i style="background:linear-gradient(90deg,#d394cd,#cb8eca,#c389c7,#bb83c4,#b37dc1,#ab78be,#a372bb,#9b6db9,#9468b6,#8d63b3,#875eb1,#805aaf,#7b56ad,#7552ab,#6f4ea9,#6a4aa7,#6547a5,#6043a3,#5c40a1,#573da0,#543b9e,#50389d,#4d369c,#49349b,#46319a,#442f99,#412d98,#3e2c97,#3b2a96,#382895,#362694,#332493,#302291)"></i><i style="background:linear-gradient(90deg,#d294cd,#ca8eca,#c288c7,#ba83c4,#b27dc1,#aa77be,#a272bb,#9b6cb8,#9367b6,#8c63b3,#865eb1,#805aaf,#7a56ac,#7452aa,#6f4ea8,#694aa6,#6446a5,#6043a3,#5b40a1,#573da0,#533a9e,#4f389d,#4c359c,#49339b,#46319a,#432f98,#402d97,#3e2b96,#3b2995,#382794,#352593,#322392,#2f2191)"></i><i style="background:linear-gradient(90deg,#d293cd,#ca8eca,#c288c7,#ba82c4,#b17dc1,#a977be,#a271bb,#9a6cb8,#9367b6,#8c62b3,#855eb1,#7f59ae,#7955ac,#7451aa,#6e4da8,#694aa6,#6446a4,#5f43a3,#5b40a1,#563da0,#533a9e,#4f379d,#4c359c,#48339a,#463199,#432f98,#402d97,#3d2b96,#3a2995,#382794,#352593,#322392,#2f2191)"></i><i style="background:linear-gradient(90deg,#d193cc,#c98dc9,#c188c6,#b982c3,#b17cc0,#a977be,#a171bb,#996cb8,#9267b5,#8b62b3,#855db0,#7f59ae,#7955ac,#7351aa,#6e4da8,#6849a6,#6346a4,#5e42a2,#5a3fa1,#563c9f,#523a9e,#4e379d,#4b359b,#48339a,#453099,#422e98,#3f2d97,#3d2b96,#3a2995,#372794,#342593,#312392,#2e2191)"></i><i style="background:linear-gradient(90deg,#d192cc,#c98dc9,#c087c6,#b881c3,#b07cc0,#a876bd,#a071bb,#996bb8,#9266b5,#8b61b3,#845db0,#7e59ae,#7854ac,#7350aa,#6d4da8,#6849a6,#6345a4,#5e42a2,#5a3fa1,#553c9f,#52399e,#4e379c,#4b349b,#48329a,#453099,#422e98,#3f2c97,#3c2a96,#392895,#372694,#342493,#312292,#2e2091)"></i><i style="background:linear-gradient(90deg,#d092cc,#c88cc9,#c087c6,#b881c3,#b07bc0,#a876bd,#a070ba,#986bb8,#9166b5,#8a61b2,#845db0,#7e58ae,#7854ac,#7250aa,#6d4ca8,#6748a6,#6245a4,#5d42a2,#593ea0,#553c9f,#51399e,#4e369c,#4a349b,#47329a,#443099,#412e98,#3f2c97,#3c2a96,#392895,#362694,#332493,#312292,#2e2091)"></i><i style="background:linear-gradient(90deg,#cf92cc,#c78cc9,#bf86c6,#b781c3,#af7bc0,#a775bd,#9f70ba,#986bb7,#9166b5,#8a61b2,#835cb0,#7d58ae,#7754ab,#7150a9,#6c4ca7,#6748a5,#6245a4,#5d41a2,#593ea0,#543b9f,#51399d,#4d369c,#4a349b,#47329a,#443099,#412e98,#3e2c97,#3b2a96,#392895,#362694,#332493,#302292,#2d2090)"></i><i style="background:linear-gradient(90deg,#cf91cb,#c78cc9,#bf86c6,#b780c3,#af7bc0,#a775bd,#9f70ba,#976ab7,#9065b5,#8960b2,#835cb0,#7d57ad,#7753ab,#714fa9,#6b4ba7,#6648a5,#6144a3,#5c41a2,#583ea0,#543b9f,#50389d,#4d369c,#49339b,#46319a,#432f99,#402d97,#3e2b96,#3b2995,#382794,#352593,#332392,#302191,#2d1f90)"></i><i style="background:linear-gradient(90deg,#ce91cb,#c68bc8,#be86c5,#b680c2,#ae7abf,#a675bd,#9e6fba,#976ab7,#9065b4,#8960b2,#825baf,#7c57ad,#7653ab,#704fa9,#6b4ba7,#6647a5,#6144a3,#5c41a2,#583da0,#533b9e,#50389d,#4c359c,#49339b,#463199,#432f98,#402d97,#3d2b96,#3a2995,#382794,#352593,#322392,#2f2191,#2c1f90)"></i><i style="background:linear-gradient(90deg,#ce90cb,#c68bc8,#be85c5,#b57fc2,#ad7abf,#a674bc,#9e6fba,#9669b7,#8f64b4,#8860b2,#825baf,#7b57ad,#7552ab,#704ea9,#6a4ba7,#6547a5,#6044a3,#5b40a1,#573da0,#533a9e,#4f389d,#4c359c,#48339a,#453199,#422f98,#402d97,#3d2b96,#3a2995,#372794,#342593,#322392,#2f2191,#2c1f90)"></i><i style="background:linear-gradient(90deg,#cd90cb,#c58ac8,#bd85c5,#b57fc2,#ad79bf,#a574bc,#9d6eb9,#9669b7,#8f64b4,#885fb1,#815baf,#7b56ad,#7552ab,#6f4ea9,#6a4aa7,#6547a5,#6043a3,#5b40a1,#573da0,#523a9e,#4f379d,#4b359b,#48329a,#453099,#422e98,#3f2c97,#3c2a96,#3a2895,#372694,#342593,#312392,#2e2191,#2b1e90)"></i><i style="background:linear-gradient(90deg,#cd90cb,#c58ac8,#bc84c5,#b47fc2,#ac79bf,#a473bc,#9d6eb9,#9569b6,#8e64b4,#875fb1,#815aaf,#7a56ad,#7452aa,#6f4ea8,#694aa6,#6446a5,#5f43a3,#5a40a1,#563c9f,#523a9e,#4e379d,#4b349b,#47329a,#443099,#412e98,#3f2c97,#3c2a96,#392895,#362694,#342493,#312292,#2e2091,#2b1e90)"></i><i style="background:linear-gradient(90deg,#cc8fca,#c48ac7,#bc84c5,#b47ec2,#ac79bf,#a473bc,#9c6eb9,#9568b6,#8d63b4,#875eb1,#805aaf,#7a56ac,#7451aa,#6e4da8,#694aa6,#6446a4,#5f42a3,#5a3fa1,#563c9f,#52399e,#4e379c,#4a349b,#47329a,#443099,#412e98,#3e2c97,#3b2a96,#392895,#362694,#332493,#302292,#2d2091,#2a1e8f)"></i><i style="background:linear-gradient(90deg,#cb8fca,#c389c7,#bb83c4,#b37ec1,#ab78be,#a373bc,#9c6db9,#9468b6,#8d63b3,#865eb1,#805aaf,#7955ac,#7351aa,#6e4da8,#6849a6,#6346a4,#5e42a2,#5a3fa1,#553c9f,#51399e,#4d369c,#4a349b,#47329a,#442f99,#412d98,#3e2b97,#3b2996,#382795,#362694,#332493,#302291,#2d2090,#2a1e8f)"></i><i style="background:linear-gradient(90deg,#cb8eca,#c389c7,#bb83c4,#b37dc1,#ab78be,#a372bb,#9b6db9,#9468b6,#8c63b3,#865eb1,#7f59ae,#7955ac,#7351aa,#6d4da8,#6849a6,#6345a4,#5e42a2,#593fa0,#553b9f,#51399d,#4d369c,#49349b,#46319a,#432f98,#402d97,#3d2b96,#3b2995,#382794,#352593,#322392,#302191,#2d1f90,#2a1d8f)"></i><i style="background:linear-gradient(90deg,#ca8eca,#c288c7,#ba83c4,#b27dc1,#aa77be,#a272bb,#9b6cb8,#9367b6,#8c62b3,#855db1,#7e59ae,#7854ac,#7250aa,#6d4ca8,#6748a6,#6245a4,#5d41a2,#593ea0,#543b9f,#50389d,#4c369c,#49339b,#463199,#432f98,#402d97,#3d2b96,#3a2995,#372794,#352593,#322392,#2f2191,#2c1f90,#291d8f)"></i><i style="background:linear-gradient(90deg,#ca8eca,#c288c7,#ba82c4,#b17dc1,#a977be,#a271bb,#9a6cb8,#9367b5,#8b62b3,#855db0,#7e58ae,#7854ac,#7250a9,#6c4ca7,#6748a5,#6244a4,#5d41a2,#583ea0,#543b9f,#50389d,#4c359c,#48339a,#453199,#422e98,#3f2c97,#3c2a96,#3a2995,#372794,#342593,#312392,#2f2191,#2c1f90,#291d8f)"></i><i style="background:linear-gradient(90deg,#c98dc9,#c188c6,#b982c3,#b17cc0,#a976be,#a171bb,#996cb8,#9267b5,#8b62b3,#845db0,#7d58ae,#7754ab,#7150a9,#6c4ca7,#6648a5,#6144a3,#5c41a2,#583ea0,#533a9e,#4f389d,#4c359c,#48339a,#453099,#422e98,#3f2c97,#3c2a96,#392895,#372694,#342493,#312292,#2e2091,#2b1e90,#281c8f)"></i><i style="background:linear-gradient(90deg,#c88dc9,#c087c6,#b881c3,#b07cc0,#a876bd,#a071ba,#996bb8,#9166b5,#8a61b2,#845cb0,#7d58ae,#7753ab,#714fa9,#6b4ba7,#6647a5,#6144a3,#5c40a1,#573da0,#533a9e,#4f379d,#4b359b,#48329a,#443099,#412e98,#3e2c97,#3c2a96,#392895,#362694,#332493,#312292,#2e2091,#2b1e90,#281c8f)"></i><i style="background:linear-gradient(90deg,#c88cc9,#c087c6,#b881c3,#b07bc0,#a876bd,#a070ba,#986bb8,#9166b5,#8a61b2,#835cb0,#7c57ad,#7653ab,#704fa9,#6b4ba7,#6547a5,#6043a3,#5b40a1,#573da0,#523a9e,#4e379d,#4b349b,#47329a,#443099,#412e98,#3e2c97,#3b2a96,#382895,#362694,#332493,#302292,#2d2091,#2b1e90,#281c8e)"></i><i style="background:linear-gradient(90deg,#c78cc9,#bf86c6,#b781c3,#af7bc0,#a775bd,#9f70ba,#986bb7,#9065b5,#8960b2,#835cb0,#7c57ad,#7653ab,#704ea9,#6a4aa7,#6547a5,#6043a3,#5b40a1,#563d9f,#52399e,#4e379c,#4a349b,#47329a,#432f99,#402d98,#3e2b96,#3b2995,#382794,#352593,#332392,#302291,#2d2090,#2a1e8f,#271b8e)"></i><i style="background:linear-gradient(90deg,#c78bc8,#bf86c6,#b780c3,#af7bc0,#a675bd,#9f6fba,#976ab7,#9065b4,#8960b2,#825baf,#7b57ad,#7552ab,#6f4ea9,#6a4aa6,#6446a5,#5f43a3,#5a3fa1,#563c9f,#51399e,#4d369c,#4a349b,#46319a,#432f98,#402d97,#3d2b96,#3a2995,#382794,#352593,#322392,#2f2191,#2d1f90,#2a1d8f,#271b8e)"></i><i style="background:linear-gradient(90deg,#c68bc8,#be85c5,#b680c2,#ae7abf,#a674bd,#9e6fba,#976ab7,#8f65b4,#8860b2,#825baf,#7b56ad,#7552ab,#6f4ea8,#694aa6,#6446a4,#5f42a2,#5a3fa1,#553c9f,#51399e,#4d369c,#49339b,#463199,#432f98,#402d97,#3d2b96,#3a2995,#372794,#342593,#322392,#2f2191,#2c1f90,#291d8f,#261b8e)"></i><i style="background:linear-gradient(90deg,#c68bc8,#be85c5,#b67fc2,#ad7abf,#a574bc,#9e6fb9,#9669b7,#8f64b4,#885fb2,#815baf,#7b56ad,#7452aa,#6e4da8,#6949a6,#6346a4,#5e42a2,#593fa1,#553c9f,#51399d,#4d369c,#49339b,#453199,#422e98,#3f2c97,#3c2a96,#392895,#372694,#342593,#312392,#2f2191,#2c1f90,#291d8f,#261b8e)"></i><i style="background:linear-gradient(90deg,#c58ac8,#bd85c5,#b57fc2,#ad79bf,#a574bc,#9d6eb9,#9669b7,#8e64b4,#875fb1,#815aaf,#7a56ad,#7451aa,#6e4da8,#6849a6,#6345a4,#5e42a2,#593ea0,#543b9f,#50389d,#4c359c,#48339a,#453099,#422e98,#3f2c97,#3c2a96,#392895,#362694,#342493,#312292,#2e2091,#2b1e90,#281c8f,#251a8e)"></i><i style="background:linear-gradient(90deg,#c48ac8,#bc84c5,#b47fc2,#ac79bf,#a473bc,#9c6eb9,#9569b6,#8e64b4,#875fb1,#805aaf,#7a55ac,#7351aa,#6d4da8,#6849a6,#6245a4,#5d41a2,#583ea0,#543b9f,#50389d,#4c359c,#48339a,#453099,#412e98,#3e2c97,#3b2a96,#392895,#362694,#332493,#302292,#2e2091,#2b1e90,#281c8f,#251a8e)"></i><i style="background:linear-gradient(90deg,#c48ac7,#bc84c5,#b47ec2,#ac79bf,#a473bc,#9c6db9,#9568b6,#8d63b4,#865eb1,#805aaf,#7955ac,#7351aa,#6d4ca8,#6748a6,#6245a4,#5d41a2,#583ea0,#533b9e,#4f389d,#4b359b,#48329a,#443099,#412e98,#3e2b97,#3b2996,#382794,#352694,#332493,#302292,#2d2091,#2b1e90,#281c8e,#251a8d)"></i><i style="background:linear-gradient(90deg,#c389c7,#bb84c4,#b37ec1,#ab78be,#a373bc,#9b6db9,#9468b6,#8d63b3,#865eb1,#7f59ae,#7955ac,#7250aa,#6c4ca8,#6748a5,#6144a3,#5c41a2,#573da0,#533a9e,#4f379d,#4b359b,#47329a,#443099,#402d98,#3d2b96,#3b2995,#382794,#352593,#322392,#302191,#2d2090,#2a1e8f,#271c8e,#24198d)"></i><i style="background:linear-gradient(90deg,#c389c7,#bb83c4,#b37dc1,#ab78be,#a372bb,#9b6db8,#9368b6,#8c62b3,#855eb1,#7f59ae,#7854ac,#7250aa,#6c4ca7,#6648a5,#6144a3,#5c40a1,#573da0,#533a9e,#4e379d,#4a349b,#47329a,#432f99,#402d97,#3d2b96,#3a2995,#372794,#352593,#322392,#2f2191,#2c1f90,#2a1d8f,#271b8e,#24198d)"></i><i style="background:linear-gradient(90deg,#c288c7,#ba83c4,#b27dc1,#aa77be,#a272bb,#9a6cb8,#9367b6,#8c62b3,#855db0,#7e59ae,#7854ac,#7150a9,#6b4ba7,#6647a5,#6044a3,#5b40a1,#573da0,#523a9e,#4e379c,#4a349b,#46319a,#432f98,#402d97,#3d2b96,#3a2995,#372794,#342593,#322392,#2f2191,#2c1f90,#291d8f,#261b8e,#23198d)"></i><i style="background:linear-gradient(90deg,#c288c7,#ba82c4,#b27dc1,#aa77be,#a271bb,#9a6cb8,#9267b5,#8b62b3,#845db0,#7e58ae,#7754ab,#714fa9,#6b4ba7,#6547a5,#6043a3,#5b40a1,#563c9f,#52399e,#4d369c,#4a349b,#463199,#422f98,#3f2c97,#3c2a96,#392895,#372694,#342493,#312292,#2e2191,#2c1f90,#291d8f,#261b8e,#23198d)"></i><i style="background:linear-gradient(90deg,#c188c6,#b982c4,#b17cc1,#a977be,#a171bb,#996cb8,#9266b5,#8b61b3,#845db0,#7d58ae,#7753ab,#704fa9,#6a4ba7,#6547a5,#5f43a3,#5a3fa1,#563c9f,#51399e,#4d369c,#49339b,#453199,#422e98,#3f2c97,#3c2a96,#392895,#362694,#332493,#312292,#2e2091,#2b1e90,#281c8f,#261a8e,#23188d)"></i><i style="background:linear-gradient(90deg,#c187c6,#b982c3,#b17cc0,#a976bd,#a171bb,#996bb8,#9166b5,#8a61b2,#835cb0,#7d58ad,#7653ab,#704fa9,#6a4aa7,#6446a5,#5f43a3,#5a3fa1,#553c9f,#51399d,#4d369c,#49339a,#453099,#422e98,#3e2c97,#3b2a96,#382895,#362694,#332493,#302292,#2e2091,#2b1e90,#281c8f,#251a8e,#22188c)"></i><i style="background:linear-gradient(90deg,#c087c6,#b881c3,#b07cc0,#a876bd,#a070ba,#986bb8,#9166b5,#8a61b2,#835cb0,#7c57ad,#7653ab,#6f4ea9,#694aa6,#6446a4,#5e42a2,#593fa1,#553b9f,#50389d,#4c359c,#48339a,#453099,#412e98,#3e2b97,#3b2996,#382794,#352593,#332492,#302291,#2d2090,#2a1e8f,#281c8e,#251a8d,#22188c)"></i><i style="background:linear-gradient(90deg,#c087c6,#b881c3,#b07bc0,#a876bd,#a070ba,#986bb7,#9065b5,#8960b2,#825cb0,#7c57ad,#7552ab,#6f4ea8,#694aa6,#6346a4,#5e42a2,#593ea0,#543b9f,#50389d,#4c359c,#48329a,#443099,#412d98,#3e2b96,#3b2995,#382794,#352593,#322392,#2f2191,#2d1f90,#2a1e8f,#271c8e,#241a8d,#21178c)"></i><i style="background:linear-gradient(90deg,#bf86c6,#b781c3,#af7bc0,#a775bd,#9f70ba,#976ab7,#9065b5,#8960b2,#825baf,#7b56ad,#7552ab,#6e4ea8,#6949a6,#6345a4,#5e42a2,#593ea0,#543b9f,#4f389d,#4b359b,#47329a,#443099,#402d97,#3d2b96,#3a2995,#372794,#342593,#322392,#2f2191,#2c1f90,#2a1d8f,#271b8e,#24198d,#21178c)"></i><i style="background:linear-gradient(90deg,#bf86c6,#b780c3,#af7bc0,#a775bd,#9f6fba,#976ab7,#9065b4,#8860b2,#815baf,#7b56ad,#7452aa,#6e4da8,#6849a6,#6245a4,#5d41a2,#583ea0,#533b9e,#4f379d,#4b359b,#47329a,#432f99,#402d97,#3d2b96,#3a2995,#372794,#342593,#312392,#2f2191,#2c1f90,#291d8f,#261b8e,#24198d,#21178c)"></i><i style="background:linear-gradient(90deg,#be85c5,#b680c2,#ae7abf,#a675bd,#9e6fba,#966ab7,#8f64b4,#885fb2,#815baf,#7a56ad,#7451aa,#6e4da8,#6849a6,#6245a4,#5d41a2,#583ea0,#533a9e,#4f379d,#4a349b,#47329a,#432f98,#402d97,#3c2a96,#392895,#362694,#342493,#312292,#2e2091,#2c1f90,#291d8f,#261b8e,#23198d,#20178c)"></i><i style="background:linear-gradient(90deg,#be85c5,#b67fc2,#ae7abf,#a674bc,#9e6fb9,#9669b7,#8f64b4,#875fb1,#805aaf,#7a55ac,#7351aa,#6d4da8,#6748a6,#6244a4,#5c41a2,#573da0,#533a9e,#4e379d,#4a349b,#46319a,#432f98,#3f2c97,#3c2a96,#392895,#362694,#332493,#312292,#2e2091,#2b1e90,#281c8f,#261a8e,#23188d,#20168c)"></i><i style="background:linear-gradient(90deg,#bd85c5,#b57fc2,#ad79bf,#a574bc,#9d6eb9,#9569b7,#8e64b4,#875fb1,#805aaf,#7955ac,#7351aa,#6d4ca8,#6748a5,#6144a3,#5c40a1,#573da0,#523a9e,#4e379c,#4a349b,#463199,#422e98,#3f2c97,#3c2a96,#392895,#362694,#332493,#302292,#2d2091,#2b1e90,#281c8f,#251a8e,#22188d,#1f168b)"></i><i style="background:linear-gradient(90deg,#bc84c5,#b57fc2,#ad79bf,#a574bc,#9d6eb9,#9569b6,#8e63b4,#865eb1,#805aaf,#7955ac,#7250aa,#6c4ca7,#6648a5,#6144a3,#5b40a1,#563d9f,#52399e,#4d369c,#49339b,#453199,#422e98,#3e2c97,#3b2a96,#382794,#352593,#322392,#302291,#2d2090,#2a1e8f,#281c8e,#251a8d,#22188c,#1f168b)"></i><i style="background:linear-gradient(90deg,#bc84c5,#b47ec2,#ac79bf,#a473bc,#9c6eb9,#9568b6,#8d63b3,#865eb1,#7f59ae,#7854ac,#7250aa,#6c4ca7,#6647a5,#6044a3,#5b40a1,#563c9f,#51399e,#4d369c,#49339b,#453099,#412e98,#3e2b97,#3b2995,#382794,#352593,#322392,#2f2191,#2d1f90,#2a1d8f,#271b8e,#241a8d,#21178c,#1e158b)"></i><i style="background:linear-gradient(90deg,#bb84c4,#b47ec1,#ac78bf,#a473bc,#9c6db9,#9468b6,#8d63b3,#855eb1,#7f59ae,#7854ac,#7150a9,#6b4ba7,#6547a5,#6043a3,#5a40a1,#563c9f,#51399d,#4c369c,#48339a,#453099,#412e98,#3e2b96,#3a2995,#372794,#342593,#322392,#2f2191,#2c1f90,#291d8f,#271b8e,#24198d,#21178c,#1e158b)"></i><i style="background:linear-gradient(90deg,#bb83c4,#b37ec1,#ab78be,#a373bc,#9b6db9,#9468b6,#8c62b3,#855db1,#7e58ae,#7754ac,#714fa9,#6b4ba7,#6547a5,#5f43a3,#5a3fa1,#553c9f,#50389d,#4c359c,#48339a,#443099,#412d98,#3d2b96,#3a2995,#372794,#342593,#312392,#2f2191,#2c1f90,#291d8f,#261b8e,#23198d,#21178c,#1e158b)"></i><i style="background:linear-gradient(90deg,#ba83c4,#b37dc1,#ab78be,#a372bb,#9b6db8,#9367b6,#8c62b3,#855db0,#7e58ae,#7753ab,#704fa9,#6a4ba7,#6446a5,#5f43a3,#5a3fa1,#553b9f,#50389d,#4c359c,#48329a,#443099,#402d97,#3d2b96,#3a2895,#372694,#342493,#312292,#2e2091,#2b1e90,#291d8f,#261b8e,#23198d,#20178c,#1d148b)"></i><i style="background:linear-gradient(90deg,#ba82c4,#b27dc1,#aa77be,#a272bb,#9a6cb8,#9367b5,#8b62b3,#845db0,#7d58ae,#7653ab,#704fa9,#6a4aa7,#6446a4,#5e42a2,#593fa1,#543b9f,#50389d,#4b359b,#47329a,#432f99,#402d97,#3c2a96,#392895,#362694,#332493,#312292,#2e2091,#2b1e90,#281c8f,#251a8e,#23188d,#20168c,#1d148a)"></i><i style="background:linear-gradient(90deg,#b982c4,#b27dc1,#aa77be,#a272bb,#9a6cb8,#9267b5,#8b61b3,#845cb0,#7d57ad,#7653ab,#704ea9,#694aa6,#6446a4,#5e42a2,#593ea0,#543b9f,#4f389d,#4b359b,#47329a,#432f98,#3f2c97,#3c2a96,#392895,#362694,#332493,#302292,#2d2091,#2b1e90,#281c8f,#251a8e,#22188c,#1f168b,#1c148a)"></i><i style="background:linear-gradient(90deg,#b982c3,#b17cc1,#a977be,#a171bb,#996cb8,#9266b5,#8a61b2,#835cb0,#7c57ad,#7552ab,#6f4ea8,#694aa6,#6346a4,#5e42a2,#583ea0,#533b9e,#4f379d,#4a349b,#46319a,#432f98,#3f2c97,#3c2a96,#382895,#352693,#332392,#302291,#2d2090,#2a1e8f,#271c8e,#251a8d,#22188c,#1f168b,#1c138a)"></i><i style="background:linear-gradient(90deg,#b881c3,#b17cc0,#a976be,#a171bb,#996bb8,#9166b5,#8a61b2,#835cb0,#7c57ad,#7552ab,#6f4ea8,#6849a6,#6345a4,#5d41a2,#583ea0,#533a9e,#4e379d,#4a349b,#46319a,#422e98,#3f2c97,#3b2a96,#382794,#352593,#322392,#2f2191,#2d1f90,#2a1d8f,#271b8e,#24198d,#21178c,#1e158b,#1b138a)"></i><i style="background:linear-gradient(90deg,#b881c3,#b07cc0,#a876bd,#a071ba,#986bb8,#9166b5,#8960b2,#825baf,#7b56ad,#7552aa,#6e4da8,#6849a6,#6245a4,#5d41a2,#573da0,#533a9e,#4e379c,#4a349b,#463199,#422e98,#3e2c97,#3b2995,#382794,#352593,#322392,#2f2191,#2c1f90,#291d8f,#271b8e,#24198d,#21178c,#1e158b,#1b138a)"></i><i style="background:linear-gradient(90deg,#b781c3,#b07bc0,#a876bd,#a070ba,#986bb7,#9065b5,#8960b2,#825baf,#7b56ad,#7451aa,#6e4da8,#6849a6,#6245a4,#5c41a2,#573da0,#523a9e,#4e369c,#49339b,#453199,#412e98,#3e2b97,#3a2995,#372794,#342593,#312392,#2f2191,#2c1f90,#291d8f,#261b8e,#23198d,#20178c,#1e158b,#1a138a)"></i><i style="background:linear-gradient(90deg,#b780c3,#af7bc0,#a775bd,#9f70ba,#976ab7,#9065b4,#8860b2,#815baf,#7a56ad,#7451aa,#6d4da8,#6748a6,#6144a3,#5c40a1,#573da0,#52399e,#4d369c,#49339b,#453099,#412e98,#3d2b96,#3a2995,#372794,#342493,#312292,#2e2091,#2b1e90,#291d8f,#261b8e,#23198d,#20178c,#1d148b,#1a1289)"></i><i style="background:linear-gradient(90deg,#b680c3,#af7bc0,#a775bd,#9f70ba,#976ab7,#8f65b4,#885fb2,#815aaf,#7a55ac,#7351aa,#6d4ca8,#6748a5,#6144a3,#5b40a1,#563d9f,#51399e,#4d369c,#48339a,#443099,#412d98,#3d2b96,#3a2995,#372694,#342493,#312292,#2e2091,#2b1e90,#281c8f,#251a8e,#23188d,#20168c,#1d148a,#1a1289)"></i><i style="background:linear-gradient(90deg,#b680c2,#ae7abf,#a675bd,#9e6fba,#976ab7,#8f64b4,#875fb1,#805aaf,#7955ac,#7350aa,#6c4ca7,#6648a5,#6044a3,#5b40a1,#563c9f,#51399e,#4c369c,#48339a,#443099,#402d97,#3d2b96,#392895,#362694,#332493,#302292,#2d2091,#2b1e90,#281c8f,#251a8e,#22188c,#1f168b,#1c148a,#191289)"></i><i style="background:linear-gradient(90deg,#b57fc2,#ae7abf,#a674bc,#9e6fba,#9669b7,#8e64b4,#875fb1,#805aaf,#7955ac,#7250aa,#6c4ca7,#6647a5,#6043a3,#5b40a1,#553c9f,#51399d,#4c359c,#48329a,#442f99,#402d97,#3c2a96,#392895,#362694,#332493,#302291,#2d2090,#2a1e8f,#271c8e,#251a8d,#22188c,#1f168b,#1c148a,#191189)"></i><i style="background:linear-gradient(90deg,#b57fc2,#ad7abf,#a574bc,#9d6eb9,#9669b7,#8e64b4,#865eb1,#7f59ae,#7854ac,#7250a9,#6b4ba7,#6547a5,#6043a3,#5a3fa1,#553c9f,#50389d,#4c359c,#47329a,#432f99,#3f2d97,#3c2a96,#392895,#352593,#322392,#2f2191,#2d1f90,#2a1d8f,#271b8e,#24198d,#21178c,#1e158b,#1b138a,#181189)"></i><i style="background:linear-gradient(90deg,#b47fc2,#ad79bf,#a574bc,#9d6eb9,#9569b6,#8d63b4,#865eb1,#7f59ae,#7854ac,#714fa9,#6b4ba7,#6547a5,#5f43a3,#5a3fa1,#553b9f,#50389d,#4b359b,#47329a,#432f98,#3f2c97,#3c2a96,#382795,#352593,#322392,#2f2191,#2c1f90,#291d8f,#271b8e,#24198d,#21178c,#1e158b,#1b138a,#181189)"></i><i style="background:linear-gradient(90deg,#b47ec2,#ac79bf,#a473bc,#9c6eb9,#9568b6,#8d63b3,#855eb1,#7e59ae,#7754ac,#714fa9,#6a4ba7,#6447a5,#5f43a3,#593fa1,#543b9f,#4f389d,#4b359b,#47329a,#432f98,#3f2c97,#3b2a96,#382794,#352593,#322392,#2f2191,#2c1f90,#291d8f,#261b8e,#23198d,#21178c,#1e158b,#1a138a,#171089)"></i><i style="background:linear-gradient(90deg,#b37ec1,#ac79bf,#a473bc,#9c6db9,#9468b6,#8c63b3,#855db0,#7e58ae,#7753ab,#704fa9,#6a4aa7,#6446a4,#5e42a2,#593ea0,#543b9f,#4f379d,#4a349b,#46319a,#422e98,#3e2c97,#3b2995,#372794,#342593,#312392,#2e2191,#2b1f90,#291d8f,#261b8e,#23198d,#20178c,#1d148b,#1a1289,#171088)"></i><i style="background:linear-gradient(90deg,#b37ec1,#ab78be,#a373bc,#9b6db9,#9468b6,#8c62b3,#845db0,#7d58ae,#7653ab,#704fa9,#6a4aa7,#6446a4,#5e42a2,#593ea0,#533b9e,#4f379d,#4a349b,#463199,#422e98,#3e2c97,#3a2995,#372794,#342493,#312292,#2e2091,#2b1e90,#281c8f,#251a8e,#23188d,#20168c,#1d148a,#1a1289,#161088)"></i><i style="background:linear-gradient(90deg,#b27dc1,#ab78be,#a372bb,#9b6db9,#9367b6,#8b62b3,#845db0,#7d58ad,#7653ab,#6f4ea9,#694aa6,#6346a4,#5e42a2,#583ea0,#533a9e,#4e379d,#4a349b,#453199,#412e98,#3e2b96,#3a2995,#372694,#342493,#312292,#2e2091,#2b1e90,#281c8f,#251a8e,#22188c,#1f168b,#1c148a,#191289,#160f88)"></i><i style="background:linear-gradient(90deg,#b27dc1,#aa78be,#a272bb,#9b6cb8,#9367b5,#8b62b3,#835cb0,#7c57ad,#7552ab,#6f4ea8,#694aa6,#6345a4,#5d41a2,#583ea0,#533a9e,#4e379c,#49339b,#453099,#412e98,#3d2b96,#3a2995,#362694,#332493,#302292,#2d2090,#2a1e8f,#281c8e,#251a8d,#22188c,#1f168b,#1c148a,#191189,#160f88)"></i><i style="background:linear-gradient(90deg,#b17dc1,#aa77be,#a272bb,#9a6cb8,#9267b5,#8a61b2,#835cb0,#7c57ad,#7552ab,#6f4ea8,#6849a6,#6245a4,#5d41a2,#573da0,#523a9e,#4d369c,#49339b,#453099,#412d98,#3d2b96,#392895,#362694,#332493,#302291,#2d1f90,#2a1d8f,#271b8e,#24198d,#21178c,#1e158b,#1b138a,#181189,#150f88)"></i><i style="background:linear-gradient(90deg,#b17cc1,#a977be,#a271bb,#9a6cb8,#9266b5,#8a61b2,#825cb0,#7b57ad,#7552ab,#6e4da8,#6849a6,#6245a4,#5c41a2,#573da0,#523a9e,#4d369c,#49339a,#443099,#402d97,#3d2a96,#392895,#362694,#322392,#2f2191,#2c1f90,#2a1d8f,#271b8e,#24198d,#21178c,#1e158b,#1b138a,#181189,#150e88)"></i><i style="background:linear-gradient(90deg,#b07cc0,#a977be,#a171bb,#996cb8,#9166b5,#8960b2,#825baf,#7b56ad,#7452aa,#6e4da8,#6849a6,#6245a4,#5c41a2,#573da0,#52399e,#4d369c,#48339a,#443099,#402d97,#3c2a96,#392895,#352593,#322392,#2f2191,#2c1f90,#291d8f,#261b8e,#23198d,#21178c,#1e158b,#1b138a,#171089,#140e87)"></i><i style="background:linear-gradient(90deg,#b07cc0,#a876bd,#a171bb,#996bb8,#9166b5,#8960b2,#825baf,#7a56ad,#7451aa,#6d4da8,#6748a6,#6144a3,#5c40a1,#563d9f,#51399e,#4c369c,#48329a,#442f99,#402d97,#3c2a96,#382895,#352593,#322392,#2f2191,#2c1f90,#291d8f,#261b8e,#23198d,#20178c,#1d158b,#1a128a,#171088,#140e87)"></i><i style="background:linear-gradient(90deg,#af7bc0,#a876bd,#a070ba,#986bb8,#9065b5,#8960b2,#815baf,#7a56ac,#7351aa,#6d4ca8,#6748a5,#6144a3,#5b40a1,#563c9f,#51399d,#4c359c,#47329a,#432f99,#3f2c97,#3b2a96,#382794,#352593,#312392,#2e2191,#2b1e90,#281c8f,#261a8e,#23188d,#20168c,#1d148b,#1a1289,#171088,#130e87)"></i><i style="background:linear-gradient(90deg,#af7bc0,#a776bd,#a070ba,#986bb7,#9065b4,#8860b2,#815aaf,#7a55ac,#7351aa,#6c4ca8,#6648a5,#6044a3,#5b40a1,#563c9f,#50389d,#4c359c,#47329a,#432f98,#3f2c97,#3b2996,#382794,#342593,#312292,#2e2091,#2b1e90,#281c8f,#251a8e,#22188d,#1f168b,#1c148a,#191289,#161088,#130d87)"></i><i style="background:linear-gradient(90deg,#af7bc0,#a775bd,#9f70ba,#976ab7,#8f65b4,#885fb1,#805aaf,#7955ac,#7250aa,#6c4ca7,#6648a5,#6043a3,#5a3fa1,#553c9f,#50389d,#4b359b,#47329a,#432f98,#3f2c97,#3b2995,#372794,#342493,#312292,#2e2091,#2b1e90,#281c8e,#251a8d,#22188c,#1f168b,#1c148a,#191189,#160f88,#120d87)"></i><i style="background:linear-gradient(90deg,#ae7abf,#a775bd,#9f6fba,#976ab7,#8f64b4,#875fb1,#805aaf,#7955ac,#7250aa,#6c4ca7,#6647a5,#6043a3,#5a3fa1,#553c9f,#50389d,#4b359b,#46319a,#422e98,#3e2c97,#3a2995,#372794,#342493,#302292,#2d2090,#2a1e8f,#271c8e,#241a8d,#21178c,#1f158b,#1c138a,#181189,#150f88,#120d87)"></i><i style="background:linear-gradient(90deg,#ae7abf,#a675bd,#9e6fba,#966ab7,#8e64b4,#875fb1,#7f59ae,#7854ac,#7250a9,#6b4ba7,#6547a5,#5f43a3,#5a3fa1,#543b9f,#4f389d,#4b349b,#46319a,#422e98,#3e2b97,#3a2995,#372694,#332493,#302291,#2d2090,#2a1d8f,#271b8e,#24198d,#21178c,#1e158b,#1b138a,#181189,#150f88,#120c86)"></i><i style="background:linear-gradient(90deg,#ad79bf,#a674bc,#9e6fba,#9669b7,#8e64b4,#865eb1,#7f59ae,#7854ac,#714fa9,#6b4ba7,#6547a5,#5f43a3,#593fa1,#543b9f,#4f379d,#4a349b,#463199,#412e98,#3d2b96,#3a2995,#362694,#332493,#302191,#2d1f90,#2a1d8f,#271b8e,#24198d,#21178c,#1e158b,#1b138a,#181189,#140e87,#110c86)"></i><i style="background:linear-gradient(90deg,#ad79bf,#a574bc,#9d6eb9,#9669b7,#8e63b4,#865eb1,#7e59ae,#7754ac,#714fa9,#6a4ba7,#6446a5,#5f42a2,#593ea0,#543b9f,#4f379d,#4a349b,#453199,#412e98,#3d2b96,#392895,#362694,#322392,#2f2191,#2c1f90,#291d8f,#261b8e,#23198d,#20178c,#1d158b,#1a128a,#171088,#140e87,#110c86)"></i><i style="background:linear-gradient(90deg,#ac79bf,#a574bc,#9d6eb9,#9569b6,#8d63b3,#855eb1,#7e58ae,#7754ab,#704fa9,#6a4aa7,#6446a4,#5e42a2,#593ea0,#533b9e,#4e379d,#4a349b,#453099,#412d98,#3d2b96,#392895,#352694,#322392,#2f2191,#2c1f90,#291d8f,#261b8e,#23188d,#20168c,#1d148b,#1a1289,#171088,#130e87,#100b86)"></i><i style="background:linear-gradient(90deg,#ac78bf,#a473bc,#9c6eb9,#9568b6,#8d63b3,#855db1,#7e58ae,#7753ab,#704fa9,#6a4aa7,#6446a4,#5e42a2,#583ea0,#533a9e,#4e379c,#49339b,#453099,#402d98,#3c2a96,#392895,#352593,#322392,#2f2191,#2b1e90,#281c8f,#251a8e,#22188d,#1f168b,#1c148a,#191289,#161088,#130d87,#100b86)"></i><i style="background:linear-gradient(90deg,#ab78be,#a473bc,#9c6eb9,#9468b6,#8c63b3,#855db0,#7d58ae,#7653ab,#704ea9,#694aa6,#6346a4,#5e42a2,#583ea0,#533a9e,#4e379c,#49339b,#443099,#402d97,#3c2a96,#382895,#352593,#312392,#2e2091,#2b1e90,#281c8f,#251a8e,#22188c,#1f168b,#1c148a,#191289,#160f88,#130d87,#0f0b86)"></i><i style="background:linear-gradient(90deg,#ab78be,#a373bc,#9c6db9,#9468b6,#8c62b3,#845db0,#7d58ae,#7653ab,#6f4ea9,#694aa6,#6345a4,#5d41a2,#583ea0,#523a9e,#4d369c,#49339a,#443099,#402d97,#3c2a96,#382794,#342593,#312292,#2e2091,#2b1e90,#281c8e,#251a8d,#22188c,#1f168b,#1c138a,#191189,#150f88,#120d87,#0f0a85)"></i><i style="background:linear-gradient(90deg,#aa77be,#a372bb,#9b6db9,#9367b6,#8c62b3,#845db0,#7c57ad,#7653ab,#6f4ea8,#6949a6,#6345a4,#5d41a2,#573da0,#523a9e,#4d369c,#48339a,#443099,#3f2d97,#3b2a96,#382794,#342593,#312292,#2d2091,#2a1e8f,#271c8e,#24198d,#21178c,#1e158b,#1b138a,#181189,#150f88,#120c86,#0e0a85)"></i><i style="background:linear-gradient(90deg,#aa77be,#a272bb,#9b6db8,#9367b6,#8b62b3,#835cb0,#7c57ad,#7552ab,#6f4ea8,#6849a6,#6245a4,#5d41a2,#573da0,#52399e,#4d369c,#48329a,#432f99,#3f2c97,#3b2a96,#372794,#342493,#302292,#2d2090,#2a1d8f,#271b8e,#24198d,#21178c,#1e158b,#1b138a,#181189,#140e87,#110c86,#0e0a85)"></i><i style="background:linear-gradient(90deg,#a977be,#a272bb,#9a6cb8,#9267b5,#8b61b3,#835cb0,#7c57ad,#7552ab,#6e4da8,#6849a6,#6245a4,#5c41a2,#573da0,#51399e,#4c369c,#48329a,#432f98,#3f2c97,#3b2995,#372794,#332493,#302292,#2d1f90,#2a1d8f,#271b8e,#24198d,#20178c,#1d158b,#1a138a,#171088,#140e87,#110c86,#0d0985)"></i><i style="background:linear-gradient(90deg,#a976bd,#a171bb,#9a6cb8,#9266b5,#8a61b2,#835cb0,#7b57ad,#7552aa,#6e4da8,#6849a6,#6245a4,#5c40a1,#563d9f,#51399e,#4c359c,#47329a,#432f98,#3e2c97,#3a2995,#372694,#332493,#302191,#2c1f90,#291d8f,#261b8e,#23198d,#20178c,#1d148b,#1a1289,#171088,#140e87,#100b86,#0d0985)"></i><i style="background:linear-gradient(90deg,#a876bd,#a171bb,#996cb8,#9266b5,#8a61b2,#825cb0,#7b56ad,#7452aa,#6e4da8,#6749a6,#6144a3,#5c40a1,#563c9f,#51399d,#4c359c,#47329a,#422f98,#3e2c97,#3a2995,#362694,#332493,#2f2191,#2c1f90,#291d8f,#261b8e,#23188d,#20168c,#1d148a,#1a1289,#161088,#130d87,#100b86,#0d0985)"></i><i style="background:linear-gradient(90deg,#a876bd,#a070ba,#996bb8,#9166b5,#8961b2,#825baf,#7b56ad,#7451aa,#6d4da8,#6748a6,#6144a3,#5b40a1,#563c9f,#50389d,#4b359c,#47329a,#422e98,#3e2b97,#3a2995,#362694,#322392,#2f2191,#2c1f90,#291c8f,#251a8e,#22188d,#1f168b,#1c148a,#191289,#160f88,#130d87,#0f0b86,#0c0884)"></i><i style="background:linear-gradient(90deg,#a775bd,#a070ba,#986bb8,#9166b5,#8960b2,#825baf,#7a56ad,#7451aa,#6d4ca8,#6748a5,#6144a3,#5b40a1,#553c9f,#50389d,#4b359b,#46319a,#422e98,#3e2b96,#3a2895,#362694,#322392,#2f2191,#2b1e90,#281c8f,#251a8e,#22188c,#1f168b,#1c148a,#191189,#150f88,#120d87,#0f0b85,#0c0884)"></i><i style="background:linear-gradient(90deg,#a775bd,#9f70ba,#986bb7,#9065b5,#8960b2,#815baf,#7a56ad,#7351aa,#6d4ca8,#6648a5,#6044a3,#5b40a1,#553c9f,#50389d,#4b349b,#46319a,#412e98,#3d2b96,#392895,#352593,#322392,#2e2191,#2b1e90,#281c8f,#251a8d,#22188c,#1f158b,#1b138a,#181189,#150f88,#120d86,#0f0a85,#0b0884)"></i></div>
<svg width="1535" height="1163" viewBox="0 0 1535 1163">
<linearGradient id="gA" gradientUnits="userSpaceOnUse" x1="106.1" y1="501.3" x2="651.8" y2="111.1"><stop offset="0" stop-color="#000080"/><stop offset="1" stop-color="#ffb3dd"/></linearGradient>
<rect x="113.6" y="80" width="515.4" height="415.9" fill="url(#gA)"/>
<clipPath id="cpA"><rect x="113.6" y="80" width="515.4" height="415.9"/></clipPath>
<g clip-path="url(#cpA)">
<path d="M104.2,354.5 209.3,501.4M104.2,210.3 312.4,501.4M110.2,74.5 415.5,501.4M213.3,74.5 518.6,501.4M316.4,74.5 621.7,501.4M419.5,74.5 638.4,380.6M522.6,74.5 638.4,236.4" fill="none" stroke="#fff" stroke-width="1.4" stroke-linejoin="round"/>
<rect x="167.8" y="447.4" width="22.5" height="22.5" fill="#fff"/><text x="179" y="465.1" class="cl">15</text>
<rect x="261.4" y="434.6" width="22.5" height="22.5" fill="#fff"/><text x="272.6" y="452.4" class="cl">20</text>
<rect x="297.4" y="341.2" width="22.5" height="22.5" fill="#fff"/><text x="308.7" y="359" class="cl">25</text>
<rect x="420.2" y="369.9" width="22.5" height="22.5" fill="#fff"/><text x="431.5" y="387.7" class="cl">30</text>
<rect x="590" y="461.9" width="22.5" height="22.5" fill="#fff"/><text x="601.3" y="479.7" class="cl">35</text>
<rect x="503" y="196.2" width="22.5" height="22.5" fill="#fff"/><text x="514.2" y="214" class="cl">40</text>
<rect x="598.8" y="186.9" width="22.5" height="22.5" fill="#fff"/><text x="610" y="204.7" class="cl">45</text>
</g>
<path d="M113.6,80H629V495.9H113.6ZM113.6,495.9v7.0M160.5,495.9v3.7M207.3,495.9v7.0M254.2,495.9v3.7M301,495.9v7.0M347.9,495.9v3.7M394.7,495.9v7.0M441.6,495.9v3.7M488.4,495.9v7.0M535.3,495.9v3.7M582.1,495.9v7.0M629,495.9v3.7M113.6,495.9h-7.0M113.6,468.2h-3.7M113.6,440.4h-7.0M113.6,412.7h-3.7M113.6,385h-7.0M113.6,357.3h-3.7M113.6,329.5h-7.0M113.6,301.8h-3.7M113.6,274.1h-7.0M113.6,246.4h-3.7M113.6,218.6h-7.0M113.6,190.9h-3.7M113.6,163.2h-7.0M113.6,135.5h-3.7M113.6,107.7h-7.0M113.6,80h-3.7" fill="none" stroke="#000" stroke-width="1.3"/>
<text x="113.6" y="523.4" class="xt">0</text>
<text x="207.3" y="523.4" class="xt">10</text>
<text x="301" y="523.4" class="xt">20</text>
<text x="394.7" y="523.4" class="xt">30</text>
<text x="488.4" y="523.4" class="xt">40</text>
<text x="582.1" y="523.4" class="xt">50</text>
<text x="100.4" y="501.7" class="yt">0</text>
<text x="100.4" y="446.2" class="yt">10</text>
<text x="100.4" y="390.8" class="yt">20</text>
<text x="100.4" y="335.3" class="yt">30</text>
<text x="100.4" y="279.9" class="yt">40</text>
<text x="100.4" y="224.4" class="yt">50</text>
<text x="100.4" y="169" class="yt">60</text>
<text x="100.4" y="113.5" class="yt">70</text>
<text x="362" y="54.5" class="ti" font-size="25.5">Women N = 221</text>
<text x="372.3" y="563.4" class="al" xml:space="preserve">Adipose  (kg)</text>
<text transform="translate(52.4,294.7) rotate(-90)" class="al" xml:space="preserve">Muscle  (kg)</text>
<text transform="translate(9.6,30.7) scale(0.96,1)" class="pl">A</text>
<linearGradient id="cbA" gradientUnits="userSpaceOnUse" x1="0" y1="491.4" x2="0" y2="84.8"><stop offset="0" stop-color="#000080"/><stop offset="1" stop-color="#ffb3dd"/></linearGradient>
<rect x="663" y="80.3" width="44.6" height="415.7" fill="url(#cbA)"/>
<rect x="663" y="80.3" width="44.6" height="4.5" fill="#808080"/>
<rect x="663" y="491.4" width="44.6" height="4.6" fill="#000"/>
<rect x="663" y="80.3" width="44.6" height="415.7" fill="none" stroke="#000" stroke-width="2"/>
<text x="722.2" y="497.8" class="ct">10</text>
<text x="722.2" y="447" class="ct">15</text>
<text x="722.2" y="396.1" class="ct">20</text>
<text x="722.2" y="345.3" class="ct">25</text>
<text x="722.2" y="294.5" class="ct">30</text>
<text x="722.2" y="243.7" class="ct">35</text>
<text x="722.2" y="192.8" class="ct">40</text>
<text x="722.2" y="142" class="ct">45</text>
<text x="722.2" y="91.2" class="ct">50</text>
<path d="M708.6,491.4h6M708.6,440.6h6M708.6,389.8h6M708.6,338.9h6M708.6,288.1h6M708.6,237.3h6M708.6,186.4h6M708.6,135.6h6M708.6,84.8h6" stroke="#000" stroke-width="1.2"/>
<text x="685.3" y="64.2" class="cbl">BMI</text>
<linearGradient id="gB" gradientUnits="userSpaceOnUse" x1="844.4" y1="525.6" x2="1461.1" y2="85.9"><stop offset="0" stop-color="#000080"/><stop offset="1" stop-color="#ffb3dd"/></linearGradient>
<rect x="886" y="80" width="515.4" height="415.9" fill="url(#gB)"/>
<clipPath id="cpB"><rect x="886" y="80" width="515.4" height="415.9"/></clipPath>
<g clip-path="url(#cpB)">
<path d="M876.6,407.7 943.4,501.4M876.6,244.6 1059.7,501.4M876.6,81.5 1176,501.4M987.8,74.5 1292.2,501.4M1104.1,74.5 1408.5,501.4M1220.4,74.5 1410.8,341.5M1336.6,74.5 1410.8,178.4" fill="none" stroke="#fff" stroke-width="1.4" stroke-linejoin="round"/>
<rect x="900.5" y="446.2" width="22.5" height="22.5" fill="#fff"/><text x="911.7" y="464" class="cl">15</text>
<rect x="949.2" y="351.2" width="22.5" height="22.5" fill="#fff"/><text x="960.5" y="369" class="cl">20</text>
<rect x="1146" y="463.2" width="22.5" height="22.5" fill="#fff"/><text x="1157.2" y="481" class="cl">25</text>
<rect x="1071.2" y="196.2" width="22.5" height="22.5" fill="#fff"/><text x="1082.5" y="214" class="cl">30</text>
<rect x="1268.2" y="308.2" width="22.5" height="22.5" fill="#fff"/><text x="1279.5" y="326" class="cl">35</text>
<rect x="1277.2" y="159.2" width="22.5" height="22.5" fill="#fff"/><text x="1288.5" y="177" class="cl">40</text>
<rect x="1341.2" y="86" width="22.5" height="22.5" fill="#fff"/><text x="1352.5" y="103.7" class="cl">45</text>
</g>
<path d="M886,80H1401.4V495.9H886ZM886,495.9v7.0M932.9,495.9v3.7M979.7,495.9v7.0M1026.6,495.9v3.7M1073.4,495.9v7.0M1120.3,495.9v3.7M1167.1,495.9v7.0M1214,495.9v3.7M1260.8,495.9v7.0M1307.7,495.9v3.7M1354.5,495.9v7.0M1401.4,495.9v3.7M886,495.9h-7.0M886,468.2h-3.7M886,440.4h-7.0M886,412.7h-3.7M886,385h-7.0M886,357.3h-3.7M886,329.5h-7.0M886,301.8h-3.7M886,274.1h-7.0M886,246.4h-3.7M886,218.6h-7.0M886,190.9h-3.7M886,163.2h-7.0M886,135.5h-3.7M886,107.7h-7.0M886,80h-3.7" fill="none" stroke="#000" stroke-width="1.3"/>
<text x="886" y="523.4" class="xt">0</text>
<text x="979.7" y="523.4" class="xt">10</text>
<text x="1073.4" y="523.4" class="xt">20</text>
<text x="1167.1" y="523.4" class="xt">30</text>
<text x="1260.8" y="523.4" class="xt">40</text>
<text x="1354.5" y="523.4" class="xt">50</text>
<text x="872.8" y="501.7" class="yt">0</text>
<text x="872.8" y="446.2" class="yt">10</text>
<text x="872.8" y="390.8" class="yt">20</text>
<text x="872.8" y="335.3" class="yt">30</text>
<text x="872.8" y="279.9" class="yt">40</text>
<text x="872.8" y="224.4" class="yt">50</text>
<text x="872.8" y="169" class="yt">60</text>
<text x="872.8" y="113.5" class="yt">70</text>
<text x="1154.3" y="54.2" class="ti" font-size="25.9">Men N = 176</text>
<text x="1148.4" y="563.4" class="al" xml:space="preserve">Adipose  (kg)</text>
<text transform="translate(822.9,298.8) rotate(-90)" class="al" xml:space="preserve">Muscle  (kg)</text>
<text transform="translate(774.7,30.7) scale(0.888,1)" class="pl">B</text>
<linearGradient id="cbB" gradientUnits="userSpaceOnUse" x1="0" y1="491.4" x2="0" y2="84.8"><stop offset="0" stop-color="#000080"/><stop offset="1" stop-color="#ffb3dd"/></linearGradient>
<rect x="1435.4" y="80.3" width="44.6" height="415.7" fill="url(#cbB)"/>
<rect x="1435.4" y="80.3" width="44.6" height="4.5" fill="#808080"/>
<rect x="1435.4" y="491.4" width="44.6" height="4.6" fill="#000"/>
<rect x="1435.4" y="80.3" width="44.6" height="415.7" fill="none" stroke="#000" stroke-width="2"/>
<text x="1494.6" y="497.8" class="ct">10</text>
<text x="1494.6" y="447" class="ct">15</text>
<text x="1494.6" y="396.1" class="ct">20</text>
<text x="1494.6" y="345.3" class="ct">25</text>
<text x="1494.6" y="294.5" class="ct">30</text>
<text x="1494.6" y="243.7" class="ct">35</text>
<text x="1494.6" y="192.8" class="ct">40</text>
<text x="1494.6" y="142" class="ct">45</text>
<text x="1494.6" y="91.2" class="ct">50</text>
<path d="M1481,491.4h6M1481,440.6h6M1481,389.8h6M1481,338.9h6M1481,288.1h6M1481,237.3h6M1481,186.4h6M1481,135.6h6M1481,84.8h6" stroke="#000" stroke-width="1.2"/>
<text x="1457.7" y="64.2" class="cbl">BMI</text>
<clipPath id="cpC"><rect x="113.6" y="667" width="515.4" height="415.9"/></clipPath>
<g clip-path="url(#cpC)">
<path d="M104.2,1040.8 108.9,1042.7 113.6,1044.5 119.6,1046.9 126.6,1049.6 132.3,1051.9 137,1053.8 141.7,1055.7 147.2,1057.9 154,1060.7 160.5,1063.3 165.1,1065.2 169.8,1067.1 174.6,1069 181.5,1071.8 188.2,1074.6 193.3,1076.7 197.9,1078.7 202.6,1080.7 207.7,1082.9 213.8,1085.7 219.6,1088.4M104.2,990.6 108.9,992.6 113.6,994.6 119.4,996.9 126.3,999.7 132.3,1002.1 137,1004 141.7,1005.8 147.6,1008 154.8,1010.8 160.5,1012.9 165.1,1014.7 169.8,1016.4 177.4,1019.1 183.9,1021.4 188.6,1023 193.5,1024.7 201.8,1027.4 207.3,1029.3 212,1030.9 218.1,1033 226,1035.8 230.7,1037.5 235.4,1039.2 240.9,1041.3 247.7,1044.1 254.1,1046.9 258.9,1049 263.5,1051.2 268.2,1053.4 272.9,1055.8 277.6,1058.1 282.5,1060.7 287.6,1063.5 292.6,1066.3 297.3,1069 301.9,1071.8 306.4,1074.6 310.6,1077.4 315.1,1080.4 319.8,1083.7 324.4,1087.3 325.9,1088.4M104.2,937.1 108.9,939.4 113.6,941.7 119.1,944.3 125.1,947 131.2,949.8 137,952.5 141.7,954.5 146.4,956.6 151.1,958.6 156.4,960.9 163,963.7 169.8,966.4 174.5,968.3 179.2,970.1 184.1,972 191.8,974.8 197.9,976.9 202.6,978.5 208.2,980.3 216.7,983 221.4,984.6 226.1,986.1 233.9,988.6 240.1,990.7 244.8,992.3 250.1,994.2 257.7,996.9 263.5,999.1 268.2,1000.9 272.9,1002.6 279.7,1005.3 286.6,1008 291.6,1010.1 296.3,1012.1 301,1014.2 305.8,1016.4 311.6,1019.1 317.2,1021.9 322.6,1024.7 327.8,1027.4 332.7,1030.2 337.4,1033 341.8,1035.8 346,1038.5 350.1,1041.3 353.9,1044.1 357.6,1046.9 361.9,1050.3 366.6,1054.2 370.9,1057.9 373.9,1060.7 376.8,1063.5 380.7,1067.3 385,1071.8 387.5,1074.6 390,1077.5 394.6,1082.9 396.9,1085.7 399.1,1088.4M104.2,876.2 108.9,879 113.6,881.7 118.3,884.3 123,886.8 127.7,889.3 132.3,891.7 137.6,894.4 143.2,897.1 148.8,899.9 154.5,902.7 160.2,905.5 165.1,907.8 169.8,910 174.5,912.2 179.2,914.3 184,916.5 190.3,919.3 196.6,922.1 202.6,924.6 207.3,926.6 212,928.5 216.7,930.4 223.6,933.2 230.7,935.9 235.4,937.8 240.1,939.6 245.2,941.5 252.6,944.3 258.9,946.6 263.5,948.4 268.2,950.1 274.8,952.6 282.2,955.4 287,957.2 291.6,959 296.5,960.9 303.4,963.7 310,966.4 315.1,968.6 319.8,970.7 324.4,972.8 329.1,975 334.4,977.5 340.1,980.3 345.6,983.1 350.9,985.9 355.9,988.6 360.8,991.4 365.3,994.2 369.7,996.9 373.9,999.7 377.8,1002.5 381.6,1005.3 385.4,1008.2 390,1012 394.7,1016 398.1,1019.1 401,1021.9 404.1,1024.9 408.8,1029.8 411.7,1033 414.2,1035.8 418.2,1040.4 421.2,1044.1 423.5,1046.9 427.5,1052 430,1055.2 432.2,1058.1 436.3,1063.5 438.3,1066.3 441.6,1070.7 444.5,1074.6 446.5,1077.4 450.6,1082.9 452.6,1085.7 454.7,1088.4M104.2,797.5 108.9,801.5 113.6,805.3 117.6,808.4 121.3,811.2 125,814 128.9,816.7 132.8,819.5 137,822.4 141.7,825.5 146.4,828.5 151.1,831.5 155.8,834.3 160.5,837.2 165.1,839.9 169.8,842.6 174.5,845.3 179.2,847.9 183.9,850.5 188.6,853.1 193.3,855.6 198.3,858.3 203.6,861.1 208.9,863.9 214.3,866.6 219.8,869.4 225.3,872.2 230.7,874.9 235.4,877.2 240.1,879.4 244.8,881.7 249.5,883.9 254.2,886.1 259.9,888.8 265.9,891.6 271.8,894.4 277.6,897.1 282.3,899.3 287,901.5 291.6,903.7 296.3,906 301,908.2 306.7,911 312.5,913.8 318.1,916.5 323.8,919.3 329.1,921.9 333.8,924.2 338.5,926.6 343.2,928.9 347.9,931.3 352.6,933.7 357.2,936.1 362.2,938.7 367.4,941.5 372.4,944.3 377.3,947 382,949.8 386.5,952.6 390.9,955.4 395,958.1 399.4,961.3 404.1,964.8 408.8,968.4 413.1,972 416.3,974.8 419.4,977.5 422.8,980.8 427.5,985.3 430.8,988.6 433.4,991.4 436.9,995.2 440.9,999.7 443.3,1002.5 446.3,1006 450.2,1010.8 452.4,1013.6 455.6,1017.6 458.9,1021.9 461.1,1024.7 465,1029.9 467.3,1033 469.7,1036.1 473.6,1041.3 475.7,1044.1 479.1,1048.6 482,1052.4 484.1,1055.2 488.4,1060.7 490.7,1063.5 493.1,1066.5 497.4,1071.8 499.7,1074.6 502.5,1077.9 506.7,1082.9 509,1085.7 511.4,1088.4M104.2,671.9 107.3,675.3 109.7,678.1 113.6,682.5 117,686.4 119.4,689.2 123,693.2 126.7,697.5 129.1,700.3 132.3,704 136.3,708.6 138.7,711.4 141.7,714.7 146.1,719.7 148.7,722.5 151.2,725.2 155.8,730 159.2,733.5 161.9,736.3 165.1,739.5 169.8,744 173.4,747.4 176.4,750.2 179.5,753 183.9,756.8 188.6,760.8 192.4,764 195.8,766.8 199.3,769.6 202.9,772.4 207.3,775.7 212,779.1 216.7,782.4 221.4,785.7 226.1,788.8 230.6,791.8 234.9,794.5 239.3,797.3 243.8,800.1 248.3,802.9 252.9,805.6 257.6,808.4 262.2,811.2 266.9,814 271.6,816.7 276.4,819.5 281.2,822.3 286.1,825 291,827.8 296,830.6 301,833.4 305.7,836 310.4,838.5 315.1,841.1 319.8,843.7 324.4,846.3 329.1,849 333.8,851.7 338.5,854.4 343.2,857.1 347.9,859.9 352.6,862.8 357.2,865.7 361.9,868.7 366.6,871.7 371.3,874.8 375.8,877.7 380,880.5 384.2,883.3 388.3,886 392.4,888.8 396.4,891.6 400.3,894.4 404.2,897.1 408.8,900.5 413.5,904 418.2,907.7 422.4,911 425.7,913.8 429.1,916.5 432.3,919.3 436.9,923.3 441.6,927.6 444.6,930.4 447.5,933.2 451,936.6 455.6,941.3 458.4,944.3 461,947 465,951.4 468.6,955.4 471,958.1 474.4,962 478.1,966.4 480.4,969.2 483.8,973.3 487.2,977.5 489.5,980.3 493.1,985 496,988.6 498.2,991.4 502.4,996.9 504.6,999.7 507.2,1003.2 510.9,1008 513,1010.8 516.6,1015.4 519.4,1019.1 521.6,1021.9 525.9,1027.4 528.1,1030.2 530.6,1033.3 534.9,1038.5 537.2,1041.3 540,1044.6 544.3,1049.6 546.8,1052.4 549.4,1055.2 554,1060.3 557.1,1063.5 559.8,1066.3 563.4,1069.9 568.1,1074.5 571.1,1077.4 574.1,1080.1 577.5,1083.3 582.2,1087.5 583.2,1088.4M262.3,661.5 265.2,664.2 268.2,667.2 272.9,671.8 276.5,675.3 279.3,678.1 282.3,681.1 287,685.7 290.5,689.2 293.4,692 296.3,694.8 301,699.1 305.4,703 308.6,705.8 311.9,708.6 315.2,711.4 319.8,715 324.4,718.7 329.1,722.1 333.4,725.2 337.3,728 341.2,730.8 345.3,733.5 349.3,736.3 353.4,739.1 357.5,741.9 361.9,744.8 366.6,748 371.3,751.2 376,754.4 380.7,757.7 385.4,761 389.7,764 393.6,766.8 397.4,769.6 401.3,772.4 405,775.1 408.8,778 413.5,781.5 418.2,785.2 422.8,789 426.3,791.8 429.6,794.5 432.9,797.3 436.9,800.7 441.6,804.8 445.5,808.4 448.6,811.2 451.5,814 455.6,817.9 460,822.3 462.7,825 465.3,827.8 469.7,832.5 473,836.1 475.5,838.9 479.1,843 482.6,847.2 484.9,850 488.4,854.3 491.7,858.3 493.9,861.1 497.8,866.2 500.3,869.4 502.5,872.3 506.6,877.7 508.7,880.5 511.9,884.8 514.9,888.8 516.9,891.6 521,897.1 523.1,899.9 525.9,903.7 529.3,908.2 531.4,911 535.3,916.3 537.5,919.3 540,922.7 543.7,927.6 545.7,930.4 549.4,935.4 551.8,938.7 554,941.9 557.7,947 559.7,949.8 563.4,955 565.6,958.1 568.1,961.7 571.5,966.4 573.5,969.2 577.4,974.8 579.4,977.5 582.1,981.3 585.6,985.9 587.6,988.6 591.5,993.7 594.1,996.9 596.3,999.7 600.9,1005.3 603.3,1008 605.7,1010.8 610.3,1015.9 613.4,1019.1 616.1,1021.9 619.6,1025.4 624.3,1029.7 628,1033 631.3,1035.8 634.8,1038.5 638.4,1041.4" fill="none" stroke="#fff" stroke-width="1.4" stroke-linejoin="round"/>
<rect x="253.2" y="806.9" width="39" height="22.5" fill="#fff"/><text x="272.7" y="824.6" class="cl">0.84</text>
<rect x="450.3" y="820.2" width="39" height="22.5" fill="#fff"/><text x="469.8" y="838" class="cl">0.89</text>
<rect x="228" y="871.8" width="39" height="22.5" fill="#fff"/><text x="247.5" y="889.5" class="cl">0.78</text>
<rect x="315.7" y="966.5" width="39" height="22.5" fill="#fff"/><text x="335.2" y="984.3" class="cl">0.73</text>
<rect x="287.4" y="1005.5" width="39" height="22.5" fill="#fff"/><text x="306.9" y="1023.2" class="cl">0.67</text>
<rect x="108.6" y="988.5" width="39" height="22.5" fill="#fff"/><text x="128.1" y="1006.3" class="cl">0.61</text>
<rect x="169.1" y="1064.2" width="39" height="22.5" fill="#fff"/><text x="188.6" y="1082" class="cl">0.56</text>
</g>
<path d="M113.6,667H629V1082.9H113.6ZM113.6,1082.9v7.0M160.5,1082.9v3.7M207.3,1082.9v7.0M254.2,1082.9v3.7M301,1082.9v7.0M347.9,1082.9v3.7M394.7,1082.9v7.0M441.6,1082.9v3.7M488.4,1082.9v7.0M535.3,1082.9v3.7M582.1,1082.9v7.0M629,1082.9v3.7M113.6,1082.9h-7.0M113.6,1055.2h-3.7M113.6,1027.4h-7.0M113.6,999.7h-3.7M113.6,972h-7.0M113.6,944.3h-3.7M113.6,916.5h-7.0M113.6,888.8h-3.7M113.6,861.1h-7.0M113.6,833.4h-3.7M113.6,805.6h-7.0M113.6,777.9h-3.7M113.6,750.2h-7.0M113.6,722.5h-3.7M113.6,694.7h-7.0M113.6,667h-3.7" fill="none" stroke="#000" stroke-width="1.3"/>
<text x="113.6" y="1110.4" class="xt">0</text>
<text x="207.3" y="1110.4" class="xt">10</text>
<text x="301" y="1110.4" class="xt">20</text>
<text x="394.7" y="1110.4" class="xt">30</text>
<text x="488.4" y="1110.4" class="xt">40</text>
<text x="582.1" y="1110.4" class="xt">50</text>
<text x="100.4" y="1088.7" class="yt">0</text>
<text x="100.4" y="1033.2" class="yt">10</text>
<text x="100.4" y="977.8" class="yt">20</text>
<text x="100.4" y="922.3" class="yt">30</text>
<text x="100.4" y="866.9" class="yt">40</text>
<text x="100.4" y="811.4" class="yt">50</text>
<text x="100.4" y="756" class="yt">60</text>
<text x="100.4" y="700.5" class="yt">70</text>
<text x="367" y="642.8" class="ti" font-size="25.65">Female 3D models N = 121</text>
<text x="372.3" y="1151" class="al" xml:space="preserve">Adipose  (kg)</text>
<text transform="translate(52.4,881.7) rotate(-90)" class="al" xml:space="preserve">Muscle  (kg)</text>
<text transform="translate(9.5,613.8) scale(0.876,1)" class="pl">C</text>
<linearGradient id="cbC" gradientUnits="userSpaceOnUse" x1="0" y1="1077.9" x2="0" y2="671.3"><stop offset="0" stop-color="#000080"/><stop offset="1" stop-color="#ffb3dd"/></linearGradient>
<rect x="663" y="667.3" width="44.6" height="415.7" fill="url(#cbC)"/>
<rect x="663" y="667.3" width="44.6" height="4" fill="#808080"/>
<rect x="663" y="1077.9" width="44.6" height="5.1" fill="#000"/>
<rect x="663" y="667.3" width="44.6" height="415.7" fill="none" stroke="#000" stroke-width="2"/>
<text x="722.2" y="1084.3" class="ct">0.50</text>
<text x="722.2" y="1033.5" class="ct">0.56</text>
<text x="722.2" y="982.7" class="ct">0.61</text>
<text x="722.2" y="931.8" class="ct">0.67</text>
<text x="722.2" y="881" class="ct">0.73</text>
<text x="722.2" y="830.2" class="ct">0.78</text>
<text x="722.2" y="779.4" class="ct">0.84</text>
<text x="722.2" y="728.5" class="ct">0.89</text>
<text x="722.2" y="677.7" class="ct">0.95</text>
<path d="M708.6,1077.9h6M708.6,1027.1h6M708.6,976.3h6M708.6,925.4h6M708.6,874.6h6M708.6,823.8h6M708.6,773h6M708.6,722.1h6M708.6,671.3h6" stroke="#000" stroke-width="1.2"/>
<text x="685.3" y="651.2" class="cbl">WHR</text>
<clipPath id="cpD"><rect x="886" y="667" width="515.4" height="415.9"/></clipPath>
<g clip-path="url(#cpD)">
<path d="M1293.5,1088.4 1295.4,1085.7 1298.3,1081.5 1301.2,1077.4 1303.1,1074.6 1307,1069 1308.9,1066.3 1312.4,1061.3 1314.8,1057.9 1317.1,1054.7 1320.7,1049.6 1322.7,1046.9 1326.4,1041.8 1328.9,1038.5 1331.1,1035.6 1335.2,1030.2 1337.3,1027.4 1340.5,1023.2 1343.6,1019.1 1345.6,1016.4 1349.7,1010.8 1351.8,1008 1354.5,1004.3 1357.9,999.7 1360,996.9 1363.9,991.8 1366.3,988.6 1368.6,985.6 1372.7,980.3 1374.9,977.5 1378,973.6 1381.5,969.2 1383.7,966.4 1387.3,961.8 1390.2,958.1 1392.3,955.4 1396.6,949.8 1398.6,947 1401.4,943.3 1404.7,938.7 1406.6,935.9 1410.5,930.4 1410.8,930.1M1147.8,1088.4 1148.9,1085.7 1151.1,1080.1 1153.1,1075.1 1154.4,1071.8 1156.7,1066.3 1157.9,1063.5 1160.2,1057.9 1162.4,1052.8 1163.9,1049.6 1166.4,1044.1 1167.6,1041.3 1170.2,1035.8 1171.8,1032.4 1174.2,1027.4 1176.5,1022.8 1178.4,1019.1 1181.2,1013.6 1182.6,1010.8 1185.5,1005.3 1187,1002.5 1190,996.9 1191.5,994.2 1194.6,988.6 1196.2,985.9 1199.4,980.3 1201,977.5 1204.2,972 1205.9,969.2 1209.2,963.7 1210.9,960.9 1214,955.9 1216.1,952.6 1218.7,948.5 1221.4,944.3 1223.4,941.2 1226.9,935.9 1228.7,933.2 1232.5,927.6 1234.4,924.9 1237.4,920.6 1240.4,916.5 1242.4,913.8 1246.5,908.2 1248.6,905.5 1251.5,901.8 1255.1,897.1 1257.3,894.4 1260.8,889.9 1263.9,886 1266.2,883.3 1270.2,878.3 1272.9,875 1275.1,872.2 1279.6,866.8 1282,863.9 1284.3,861.1 1289,855.6 1291.3,852.8 1293.7,850 1298.3,844.7 1300.9,841.7 1303.3,838.9 1307.7,833.9 1310.7,830.6 1313.1,827.8 1317.1,823.4 1320.5,819.5 1323,816.7 1326.4,812.9 1330.5,808.4 1333.1,805.6 1335.8,802.6 1340.5,797.6 1343.3,794.5 1345.9,791.8 1349.9,787.5 1353.7,783.5 1356.3,780.7 1359.2,777.5 1363.9,772.5 1366.7,769.6 1369.2,766.8 1373.3,762.5 1377,758.5 1379.5,755.7 1382.7,752.3 1387.1,747.4 1389.6,744.6 1392.1,741.9 1396.7,736.6 1399.3,733.5 1401.7,730.8 1406.1,725.6 1408.7,722.5 1410.8,720M1047.3,1088.4 1048.9,1082.9 1050,1079.2 1051.3,1074.6 1053,1069 1054.7,1063.6 1055.6,1060.7 1057.4,1055.2 1059.2,1049.6 1060.1,1046.9 1062,1041.3 1063.9,1035.8 1064.9,1033 1066.9,1027.4 1068.7,1022.5 1070,1019.1 1072.1,1013.6 1073.4,1010.2 1075.3,1005.3 1077.5,999.7 1078.6,996.9 1080.9,991.4 1082.8,986.7 1084.3,983.1 1086.6,977.5 1087.8,974.8 1090.2,969.2 1092.2,964.6 1093.8,960.9 1096.2,955.4 1097.4,952.6 1099.9,947 1101.5,943.4 1103.7,938.7 1106.2,933.2 1107.5,930.4 1110.1,924.9 1111.4,922.1 1114.1,916.5 1115.6,913.5 1118.2,908.2 1120.3,904.1 1122.4,899.9 1125,895 1126.8,891.6 1129.6,886.3 1131.3,883.3 1134.3,877.8 1135.9,875 1139,869.4 1140.5,866.6 1143.6,861.1 1145.1,858.3 1148.2,852.8 1149.7,850 1152.9,844.5 1154.5,841.7 1157.8,836.3 1159.6,833.4 1162.4,828.7 1164.8,825 1167.1,821.5 1170.3,816.7 1172.2,814 1176,808.4 1178,805.6 1181.2,801.1 1183.9,797.3 1185.9,794.5 1190,789 1192.1,786.2 1195.2,782.1 1198.5,777.9 1200.6,775.1 1204.6,770 1207.2,766.8 1209.4,764 1213.9,758.5 1216.2,755.7 1218.7,752.7 1223.1,747.4 1225.4,744.6 1228,741.5 1232.5,736.3 1234.9,733.5 1237.4,730.7 1242.1,725.5 1244.8,722.5 1247.4,719.7 1251.5,715.2 1255.1,711.4 1257.8,708.6 1260.8,705.4 1265.5,700.7 1268.8,697.5 1271.6,694.7 1274.9,691.6 1279.6,687.2 1283.4,683.6 1286.5,680.9 1289.5,678.1 1293.6,674.4 1298.3,670.1 1301.7,667 1304.6,664.2 1307.5,661.5M968.9,1088.4 970.3,1083.1 971.1,1080.1 972.5,1074.6 973.9,1069 975,1064.7 976.1,1060.7 977.6,1055.2 979.2,1049.6 980.1,1046.9 981.8,1041.3 983.6,1035.8 984.5,1033 986.4,1027.4 988.4,1021.9 989.3,1019.1 991.3,1013.6 993.4,1008 994.4,1005.3 996.4,999.7 998.5,994.3 999.5,991.4 1001.6,985.9 1003.1,981.7 1004.7,977.5 1006.8,972 1007.8,969.2 1009.9,963.7 1012,958.1 1013.1,955.4 1015.2,949.8 1017.2,944.5 1018.3,941.5 1020.5,935.9 1021.9,932.2 1023.7,927.6 1025.8,922.1 1026.9,919.3 1029.1,913.8 1031.3,908.3 1032.4,905.5 1034.6,899.9 1035.9,896.5 1037.9,891.6 1040.2,886 1041.3,883.3 1043.6,877.7 1045.3,873.6 1047.1,869.4 1049.6,863.9 1050.8,861.1 1053.4,855.5 1054.7,852.8 1057.3,847.2 1059.4,843 1061.4,838.9 1064,833.7 1065.7,830.6 1068.6,825 1070.1,822.3 1073.1,816.7 1074.6,814 1077.7,808.4 1079.3,805.6 1082.5,800.1 1084.1,797.3 1087.4,791.8 1089.1,789 1092.2,784 1094.2,780.7 1096.8,776.6 1099.6,772.4 1101.5,769.4 1105.1,764 1106.9,761.3 1110.7,755.7 1112.6,753 1115.6,748.7 1118.4,744.6 1120.4,741.9 1124.4,736.3 1126.4,733.5 1129.6,729 1132.4,725.2 1134.4,722.5 1138.5,716.9 1140.6,714.1 1143.7,709.9 1146.7,705.8 1148.7,703 1152.8,697.5 1154.9,694.7 1157.8,691 1161.2,686.4 1163.4,683.6 1167.1,678.9 1170,675.3 1172.2,672.5 1176.5,667.3 1179,664.2 1181.3,661.5M899.7,1088.4 900.7,1085.7 902.7,1080.1 904.6,1074.6 905.6,1071.8 907.6,1066.3 909.4,1060.9 910.4,1057.9 912.3,1052.4 914,1046.9 914.9,1044.1 916.7,1038.5 918.4,1033 919.3,1030.2 921,1024.7 922.7,1019.1 923.6,1016.4 925.4,1010.8 927.1,1005.3 928.2,1002.1 929.8,996.9 931.7,991.4 932.9,987.7 934.4,983.1 936.2,977.5 937.5,973.4 938.9,969.2 940.7,963.7 942.2,958.8 943.3,955.4 945.1,949.8 946.9,944.3 947.8,941.5 949.7,935.9 951.5,930.4 952.5,927.6 954.4,922.1 956.3,916.8 957.4,913.8 959.4,908.2 961,904.1 962.6,899.9 964.7,894.4 965.8,891.6 968,886 970.3,880.5 971.4,877.7 973.6,872.2 975,868.7 976.9,863.9 979,858.3 980.1,855.5 982.2,850 984.3,844.5 985.3,841.7 987.4,836.1 989.1,831.7 990.6,827.8 992.8,822.3 993.9,819.5 996.1,814 998.4,808.4 999.6,805.6 1002,800.1 1003.2,797.3 1005.6,791.8 1007.8,786.9 1009.4,783.5 1012,777.9 1013.3,775.1 1016,769.6 1017.3,766.8 1020.1,761.3 1021.9,757.7 1024.3,753 1026.6,748.7 1028.7,744.6 1031.3,740 1033.3,736.3 1035.9,731.6 1038,728 1040.6,723.5 1042.9,719.7 1045.3,715.7 1048.1,711.4 1050,708.3 1053.5,703 1055.3,700.3 1059.2,694.7 1061.2,692 1064,688 1067.3,683.6 1069.3,680.9 1073.4,675.5 1075.7,672.5 1078.1,669.4 1082.1,664.2 1084.2,661.5M876.6,960.6 878.5,955.4 880.6,949.8 881.6,947 883.6,941.5 885.6,935.9 886.6,933.2 888.6,927.6 890.5,922.1 891.5,919.3 893.5,913.8 895.4,908.7 896.6,905.5 898.6,899.9 900.1,896.1 901.8,891.6 903.9,886 905,883.3 907.2,877.7 909.4,872.2 910.5,869.4 912.6,863.9 914.1,859.9 915.7,855.5 917.8,850 918.9,847.2 921,841.7 923.1,836.1 924.2,833.4 926.4,827.8 928.2,823.3 929.7,819.5 932,814 933.2,811.2 935.5,805.6 937.5,800.9 939.1,797.3 941.5,791.8 942.7,789 945.1,783.5 946.9,779.3 948.8,775.1 951.3,769.6 952.5,766.8 955,761.3 956.3,758.5 958.9,753 961,748.5 962.8,744.6 965.5,739.1 966.8,736.3 969.5,730.8 970.9,728 973.7,722.5 975.1,719.7 977.9,714.1 979.7,710.6 982.2,705.8 984.4,701.5 986.5,697.5 989.1,692.6 990.9,689.2 993.8,683.8 995.4,680.9 998.4,675.3 999.9,672.5 1003,667 1004.6,664.2 1006.2,661.5M876.6,794.5 879,789 881.3,783.8 882.7,780.7 885.2,775.1 886.4,772.4 888.8,766.8 890.7,762.5 892.4,758.5 894.9,753 896.1,750.2 898.5,744.6 900.1,741.2 902.2,736.3 904.7,730.8 906,728 908.5,722.5 909.8,719.7 912.3,714.1 914.1,710.3 916.2,705.8 918.8,700.4 920.1,697.5 922.8,692 924.1,689.2 926.8,683.6 928.2,680.7 930.8,675.3 932.9,671 934.8,667 937.5,661.5 937.5,661.5" fill="none" stroke="#fff" stroke-width="1.4" stroke-linejoin="round"/>
<rect x="911" y="665.4" width="39" height="22.5" fill="#fff"/><text x="930.5" y="683.1" class="cl">1.65</text>
<rect x="915" y="800.2" width="39" height="22.5" fill="#fff"/><text x="934.5" y="818" class="cl">1.55</text>
<rect x="895.7" y="1032.8" width="39" height="22.5" fill="#fff"/><text x="915.2" y="1050.5" class="cl">1.45</text>
<rect x="1114.8" y="714.2" width="39" height="22.5" fill="#fff"/><text x="1134.3" y="732" class="cl">1.35</text>
<rect x="1100.7" y="890.8" width="39" height="22.5" fill="#fff"/><text x="1120.2" y="908.5" class="cl">1.25</text>
<rect x="1139" y="1049.5" width="39" height="22.5" fill="#fff"/><text x="1158.5" y="1067.3" class="cl">1.15</text>
<rect x="1315.2" y="1021" width="39" height="22.5" fill="#fff"/><text x="1334.7" y="1038.8" class="cl">1.05</text>
</g>
<path d="M886,667H1401.4V1082.9H886ZM886,1082.9v7.0M932.9,1082.9v3.7M979.7,1082.9v7.0M1026.6,1082.9v3.7M1073.4,1082.9v7.0M1120.3,1082.9v3.7M1167.1,1082.9v7.0M1214,1082.9v3.7M1260.8,1082.9v7.0M1307.7,1082.9v3.7M1354.5,1082.9v7.0M1401.4,1082.9v3.7M886,1082.9h-7.0M886,1055.2h-3.7M886,1027.4h-7.0M886,999.7h-3.7M886,972h-7.0M886,944.3h-3.7M886,916.5h-7.0M886,888.8h-3.7M886,861.1h-7.0M886,833.4h-3.7M886,805.6h-7.0M886,777.9h-3.7M886,750.2h-7.0M886,722.5h-3.7M886,694.7h-7.0M886,667h-3.7" fill="none" stroke="#000" stroke-width="1.3"/>
<text x="886" y="1110.4" class="xt">0</text>
<text x="979.7" y="1110.4" class="xt">10</text>
<text x="1073.4" y="1110.4" class="xt">20</text>
<text x="1167.1" y="1110.4" class="xt">30</text>
<text x="1260.8" y="1110.4" class="xt">40</text>
<text x="1354.5" y="1110.4" class="xt">50</text>
<text x="872.8" y="1088.7" class="yt">0</text>
<text x="872.8" y="1033.2" class="yt">10</text>
<text x="872.8" y="977.8" class="yt">20</text>
<text x="872.8" y="922.3" class="yt">30</text>
<text x="872.8" y="866.9" class="yt">40</text>
<text x="872.8" y="811.4" class="yt">50</text>
<text x="872.8" y="756" class="yt">60</text>
<text x="872.8" y="700.5" class="yt">70</text>
<text x="1144.4" y="641.2" class="ti" font-size="25.9">Male 3D models N = 176</text>
<text x="1141.9" y="1152.6" class="al" xml:space="preserve">Adipose  (kg)</text>
<text transform="translate(822.9,886) rotate(-90)" class="al" xml:space="preserve">Muscle  (kg)</text>
<text transform="translate(774.7,613.8) scale(0.888,1)" class="pl">D</text>
<linearGradient id="cbD" gradientUnits="userSpaceOnUse" x1="0" y1="1077.9" x2="0" y2="671.3"><stop offset="0" stop-color="#000080"/><stop offset="1" stop-color="#ffb3dd"/></linearGradient>
<rect x="1435.4" y="667.3" width="44.6" height="415.7" fill="url(#cbD)"/>
<rect x="1435.4" y="667.3" width="44.6" height="4" fill="#808080"/>
<rect x="1435.4" y="1077.9" width="44.6" height="5.1" fill="#000"/>
<rect x="1435.4" y="667.3" width="44.6" height="415.7" fill="none" stroke="#000" stroke-width="2"/>
<text x="1494.6" y="1084.3" class="ct">0.95</text>
<text x="1494.6" y="1033.5" class="ct">1.05</text>
<text x="1494.6" y="982.7" class="ct">1.15</text>
<text x="1494.6" y="931.8" class="ct">1.25</text>
<text x="1494.6" y="881" class="ct">1.35</text>
<text x="1494.6" y="830.2" class="ct">1.45</text>
<text x="1494.6" y="779.4" class="ct">1.55</text>
<text x="1494.6" y="728.5" class="ct">1.65</text>
<text x="1494.6" y="677.7" class="ct">1.75</text>
<path d="M1481,1077.9h6M1481,1027.1h6M1481,976.3h6M1481,925.4h6M1481,874.6h6M1481,823.8h6M1481,773h6M1481,722.1h6M1481,671.3h6" stroke="#000" stroke-width="1.2"/>
<text x="1457.7" y="651.2" class="cbl">SWR</text>
</svg>
</body></html>
